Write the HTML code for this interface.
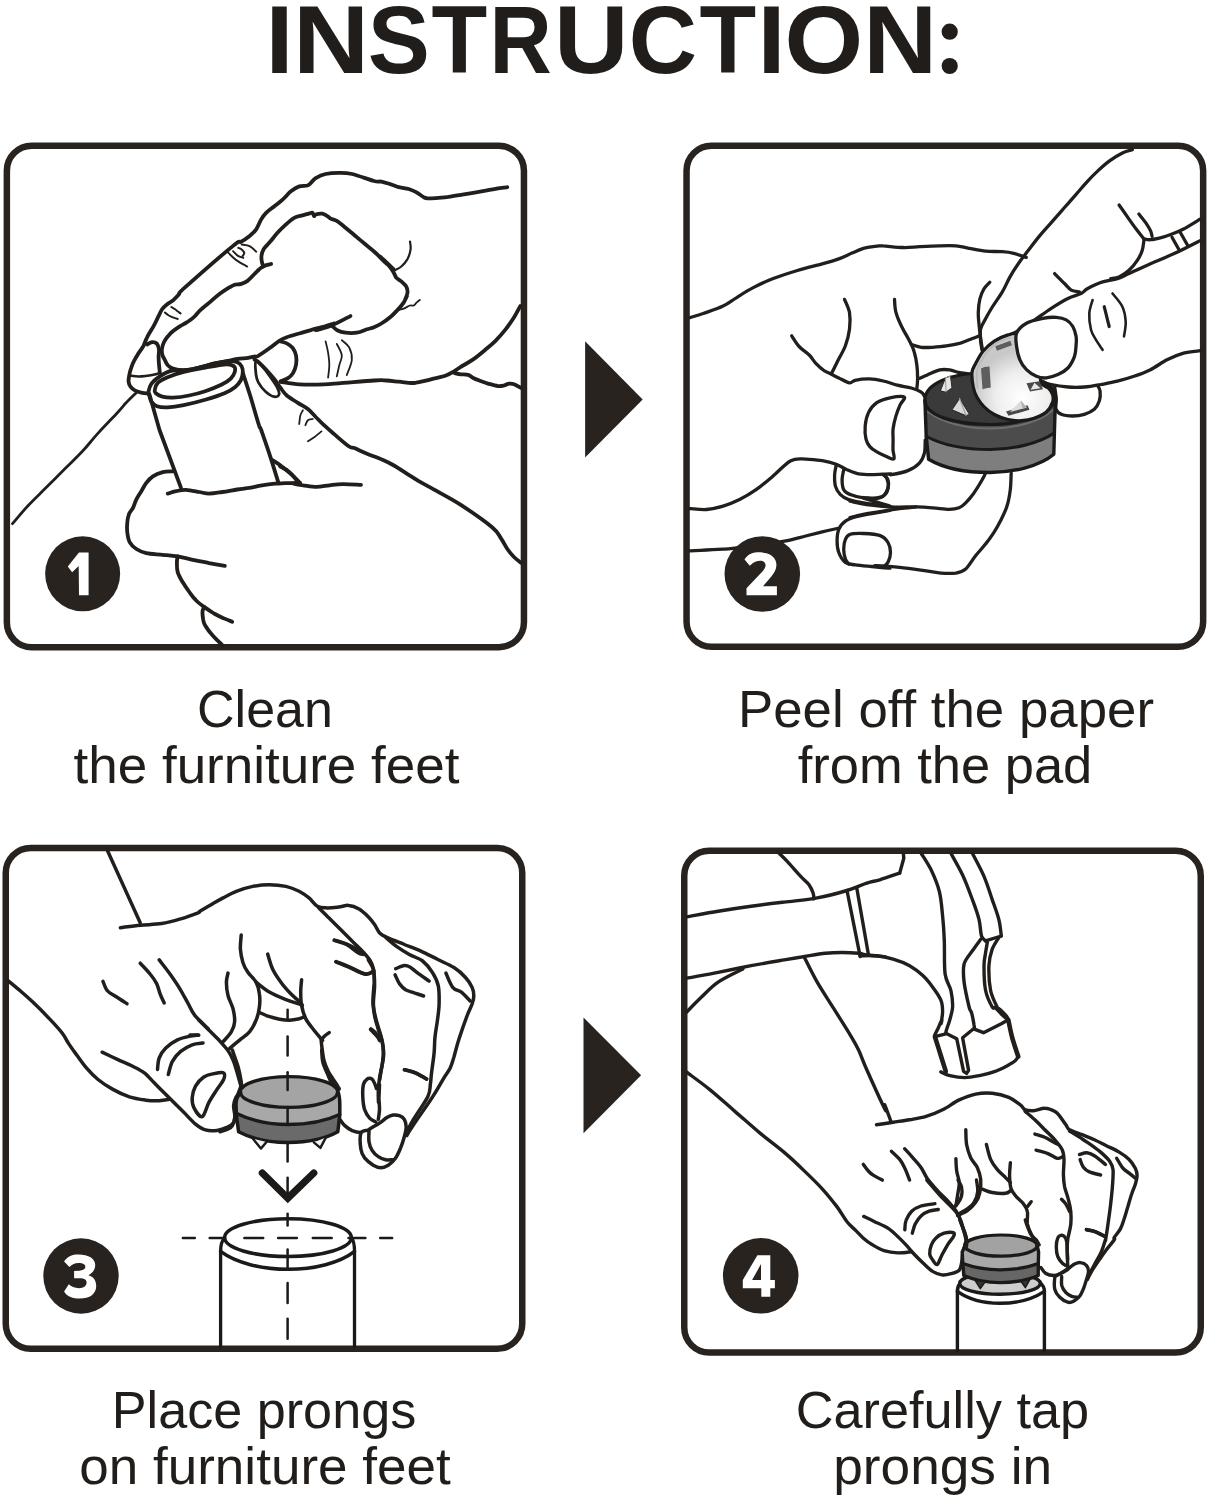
<!DOCTYPE html>
<html><head><meta charset="utf-8"><title>Instruction</title>
<style>
html,body{margin:0;padding:0;background:#fff;}
body{width:1210px;height:1500px;overflow:hidden;}
svg{display:block;}
.t{font-family:"Liberation Sans",sans-serif;fill:#211d1a;}
.d{fill:none;stroke:#221e1b;stroke-width:3;stroke-linecap:round;stroke-linejoin:round;}
.b{fill:none;stroke:#28231f;stroke-width:6.5;}
</style></head>
<body>
<svg width="1210" height="1500" viewBox="0 0 1210 1500">
<rect width="1210" height="1500" fill="#fff"/>
<!-- title -->
<g id="title"><text class="t" font-size="97.0" font-weight="bold" transform="translate(265.45 72.8) scale(1.0381 1)">I</text><text class="t" font-size="97.0" font-weight="bold" transform="translate(293.04 72.8) scale(1.0870 1)">N</text><text class="t" font-size="97.0" font-weight="bold" transform="translate(367.70 72.8) scale(0.9604 1)">S</text><text class="t" font-size="97.0" font-weight="bold" transform="translate(431.40 72.8) scale(0.9399 1)">T</text><text class="t" font-size="97.0" font-weight="bold" transform="translate(489.42 72.8) scale(0.8895 1)">R</text><text class="t" font-size="97.0" font-weight="bold" transform="translate(554.01 72.8) scale(1.0635 1)">U</text><text class="t" font-size="97.0" font-weight="bold" transform="translate(628.72 72.8) scale(0.9758 1)">C</text><text class="t" font-size="97.0" font-weight="bold" transform="translate(699.58 72.8) scale(0.9557 1)">T</text><text class="t" font-size="97.0" font-weight="bold" transform="translate(757.45 72.8) scale(1.0381 1)">I</text><text class="t" font-size="97.0" font-weight="bold" transform="translate(784.55 72.8) scale(1.0428 1)">O</text><text class="t" font-size="97.0" font-weight="bold" transform="translate(863.34 72.8) scale(1.0555 1)">N</text><circle cx="949.7" cy="31.7" r="8.1" fill="#211d1a"/><circle cx="949.7" cy="66" r="8.1" fill="#211d1a"/></g>

<!-- boxes -->
<rect class="b" x="6.85" y="145.75" width="517.1" height="501.5" rx="25"/>
<rect class="b" x="686.55" y="145.75" width="516.6" height="501" rx="25"/>
<rect class="b" x="5.75" y="847.95" width="516.5" height="500.9" rx="25"/>
<rect class="b" x="684.25" y="850.75" width="516.5" height="501.8" rx="25"/>

<!-- arrows -->
<path d="M585.1 341.3 L642.7 399.5 L585.1 457.6 Z" fill="#28231f"/>
<path d="M583.5 1017.6 L641.1 1075.2 L583.5 1133.3 Z" fill="#28231f"/>

<!-- DRAWINGS -->
<g id="p1" fill="none" stroke-linecap="round" stroke-linejoin="round">
<path d="M507.3 187.2C505.7 187.4 501.6 187.9 498.0 188.4C494.4 189.0 489.7 189.9 485.6 190.7C481.4 191.4 477.3 192.1 473.2 192.8C469.0 193.5 464.9 194.2 460.8 194.9C456.6 195.6 452.5 196.3 448.4 196.9C444.2 197.4 439.5 197.9 436.0 198.1C432.5 198.3 429.4 198.5 427.3 198.3C425.2 198.2 425.4 198.1 423.6 197.1C421.7 196.1 418.6 193.5 416.1 192.1C413.7 190.8 411.0 189.8 408.7 189.0C406.4 188.3 404.2 188.1 402.5 187.8C400.9 187.5 400.9 187.8 398.8 187.2C396.7 186.6 393.0 185.0 390.1 184.1C387.2 183.2 384.1 182.1 381.4 181.6C378.8 181.1 378.9 182.3 374.0 181.0C369.1 179.7 357.9 175.3 352.1 174.0C346.2 172.6 343.3 172.8 338.8 172.8C334.4 172.8 329.5 173.1 325.6 174.0C321.8 174.8 318.2 176.6 315.7 178.1C313.2 179.6 312.1 181.8 310.7 183.1C309.4 184.3 309.4 185.0 307.4 185.5C305.5 186.1 301.9 185.4 299.2 186.4C296.4 187.3 293.7 189.1 290.9 191.3C288.2 193.5 285.4 197.1 282.6 199.6C279.9 202.1 277.1 204.0 274.4 206.2C271.6 208.4 268.3 210.6 266.1 212.8C263.9 215.0 262.8 216.7 261.2 219.4C259.5 222.2 258.1 226.6 256.2 229.3C254.3 232.1 252.1 233.9 249.6 236.0C247.1 238.0 244.1 240.1 241.3 241.7C238.6 243.4 242.5 238.2 233.1 245.9C223.6 253.5 193.8 279.6 184.7 287.7C175.7 295.8 180.7 292.5 178.8 294.6C176.8 296.8 174.8 298.9 172.8 300.6C170.8 302.2 168.7 303.1 166.9 304.5C165.0 306.0 163.4 307.4 161.9 309.5C160.4 311.7 159.3 314.8 157.9 317.4C156.6 320.1 155.8 322.1 154.0 325.4C152.2 328.7 148.9 333.7 147.2 337.1C145.4 340.5 144.9 343.1 143.5 345.8C142.0 348.5 140.1 350.7 138.5 353.2C137.0 355.7 135.4 358.2 134.2 360.7C132.9 363.1 131.9 365.6 131.1 368.1C130.2 370.6 129.6 373.3 129.2 375.5C128.8 377.8 128.4 379.9 128.6 381.7C128.8 383.6 129.4 385.2 130.5 386.7C131.5 388.1 132.8 389.4 134.8 390.4C136.8 391.4 140.1 392.4 142.2 392.9C144.4 393.4 146.9 393.4 147.8 393.5" fill="none" stroke="#221e1b" stroke-width="3.8"/>
<path d="M147.2 344.5C148.0 344.1 150.5 342.2 152.1 342.1C153.8 342.0 156.0 342.7 157.1 343.9C158.2 345.2 158.7 347.3 159.0 349.5C159.2 351.7 158.6 354.5 158.6 356.9C158.6 359.4 158.8 361.8 159.0 364.4C159.2 367.0 159.7 371.1 159.8 372.4" fill="none" stroke="#221e1b" stroke-width="3.8"/>
<path d="M129.8 375.5C131.3 375.7 135.6 376.5 138.5 376.5C141.4 376.6 144.5 376.1 147.2 375.8C149.9 375.5 152.5 375.0 154.6 374.5C156.8 374.0 159.3 373.1 160.2 372.8" fill="none" stroke="#221e1b" stroke-width="2.6"/>
<path d="M164.9 312.5C165.5 313.0 167.5 314.6 168.8 315.5C170.2 316.3 171.3 316.9 172.8 317.4C174.3 318.0 176.9 318.7 177.8 318.9" fill="none" stroke="#221e1b" stroke-width="2.0"/>
<path d="M171.3 307.0C171.9 307.4 173.7 308.3 174.8 309.0C175.9 309.8 176.8 310.7 177.8 311.5C178.8 312.2 180.2 313.1 180.7 313.5" fill="none" stroke="#221e1b" stroke-width="2.0"/>
<path d="M226.4 250.8C227.5 251.9 230.9 255.5 233.1 257.4C235.3 259.4 237.3 260.9 239.7 262.4C242.0 263.9 245.9 265.8 247.1 266.5" fill="none" stroke="#221e1b" stroke-width="2.0"/>
<path d="M233.1 251.2C233.9 251.9 236.3 254.7 238.0 255.8C239.7 256.9 242.4 257.4 243.3 257.8" fill="none" stroke="#221e1b" stroke-width="2.0"/>
<path d="M238.3 247.9C238.9 248.1 240.7 248.7 241.7 249.5C242.6 250.3 244.1 251.7 244.3 252.8C244.5 253.9 242.9 255.6 242.6 256.1" fill="none" stroke="#221e1b" stroke-width="2.0"/>
<path d="M241.7 244.5C243.0 244.8 247.2 245.0 249.6 246.2C252.0 247.4 255.1 250.7 256.2 251.7" fill="none" stroke="#221e1b" stroke-width="2.0"/>
<path d="M271.1 264.0C270.0 264.3 266.4 264.9 264.5 265.7C262.5 266.5 261.2 267.6 259.5 269.0C257.9 270.4 256.5 272.0 254.5 274.0C252.6 275.9 250.1 278.9 247.9 280.6C245.7 282.2 243.5 283.2 241.3 283.9C239.1 284.6 236.6 284.2 234.7 284.7C232.8 285.3 232.2 285.7 229.8 287.2C227.3 288.7 223.1 291.3 219.8 293.8C216.5 296.3 213.2 299.3 209.9 302.1C206.6 304.8 202.7 307.8 200.0 310.3C197.3 312.9 195.9 315.4 193.6 317.4C191.4 319.4 189.0 320.9 186.7 322.4C184.4 323.9 182.1 324.9 179.8 326.4C177.4 327.9 174.8 329.7 172.8 331.3C170.8 333.0 169.3 334.5 167.9 336.3C166.4 338.1 164.9 340.1 163.9 342.2C162.9 344.4 162.1 347.0 161.9 349.2C161.7 351.3 161.9 353.3 162.4 355.1C162.9 356.9 163.9 358.4 164.9 360.1C165.8 361.8 166.6 364.1 168.0 365.5C169.4 366.9 170.4 367.8 173.0 368.6C175.6 369.4 180.1 370.2 183.7 370.2C187.3 370.2 191.3 369.2 194.5 368.6C197.7 368.0 200.3 367.3 203.0 366.6C205.7 365.9 206.7 365.2 210.6 364.3C214.5 363.4 222.2 362.0 226.7 361.1C231.2 360.2 233.8 359.5 237.4 359.0C241.0 358.5 245.4 358.3 248.2 357.9C251.0 357.5 252.4 357.0 254.1 356.6C255.8 356.2 255.7 357.2 258.3 355.8C260.8 354.4 265.9 350.8 269.4 348.3C272.9 345.9 276.4 342.8 279.3 340.9C282.2 339.0 283.5 338.4 286.8 337.2C290.1 336.0 295.0 334.7 299.2 333.5C303.3 332.2 307.4 330.9 311.6 329.8C315.7 328.6 320.2 327.7 324.0 326.7C327.7 325.6 335.3 323.0 333.9 323.6C332.5 324.1 316.0 329.9 315.7 330.2C315.4 330.4 326.4 327.5 332.2 325.2C338.0 322.9 347.4 317.6 350.4 316.1" fill="none" stroke="#221e1b" stroke-width="3.8"/>
<path d="M263.6 266.5C263.4 265.8 262.3 264.2 262.0 262.4C261.6 260.6 261.2 258.0 261.5 255.8C261.8 253.6 262.3 251.4 263.6 249.2C265.0 247.0 267.1 245.3 269.4 242.6C271.8 239.8 274.9 235.7 277.7 232.6C280.4 229.6 283.2 226.9 286.0 224.4C288.7 221.9 291.5 219.3 294.2 217.8C297.0 216.3 300.0 216.0 302.5 215.3C305.0 214.6 307.4 214.0 309.1 213.6C310.7 213.2 311.6 212.4 312.4 212.8C313.2 213.2 313.5 215.8 314.0 216.1C314.6 216.4 314.3 214.9 315.7 214.5C317.1 214.0 320.4 213.4 322.3 213.6C324.2 213.9 325.9 215.3 327.3 216.1C328.7 216.9 328.9 217.8 330.6 218.6C332.2 219.4 334.7 219.6 337.2 221.1C339.7 222.6 342.4 225.2 345.5 227.7C348.5 230.2 352.1 233.2 355.4 236.0C358.7 238.7 362.0 241.5 365.3 244.2C368.6 247.0 371.9 249.4 375.2 252.5C378.5 255.5 382.1 259.6 385.1 262.4C388.2 265.2 394.2 270.0 393.4 269.0C392.6 268.0 381.4 257.6 380.2 256.6C379.0 255.6 384.5 260.7 386.4 262.8C388.3 264.9 390.1 267.4 391.4 269.0C392.6 270.7 393.0 271.3 393.8 272.7C394.7 274.2 395.1 276.2 396.3 277.7C397.6 279.1 399.6 280.0 401.3 281.4C402.9 282.9 405.2 284.5 406.2 286.4C407.3 288.2 407.7 290.3 407.5 292.6C407.3 294.8 405.1 299.4 405.0 300.0C404.9 300.6 407.1 295.8 406.9 296.2C406.6 296.6 405.1 300.3 403.8 302.4C402.4 304.5 401.1 306.1 398.8 308.6C396.5 311.1 393.0 314.8 390.1 317.3C387.2 319.8 384.1 321.8 381.4 323.5C378.8 325.1 376.4 326.2 374.0 327.2C371.6 328.2 369.8 328.4 366.9 329.3C364.1 330.2 360.6 332.1 357.0 332.6C353.4 333.2 348.8 333.1 345.5 332.6C342.1 332.2 339.4 331.3 337.2 330.2C335.0 329.1 333.1 326.7 332.2 326.0" fill="none" stroke="#221e1b" stroke-width="3.8"/>
<path d="M410.0 241.7C410.1 243.0 411.0 246.3 410.6 249.2C410.2 252.1 409.0 256.2 407.5 259.1C405.9 262.0 403.3 264.7 401.3 266.5C399.2 268.4 396.1 269.6 395.1 270.2" fill="none" stroke="#221e1b" stroke-width="2.2"/>
<path d="M398.8 309.8C399.6 309.6 401.9 309.3 403.8 308.6C405.6 307.9 408.3 306.0 410.0 305.5C411.6 305.0 412.5 306.0 413.7 305.5C414.8 305.0 415.7 303.3 416.8 302.4C417.8 301.5 419.4 300.3 419.9 299.9" fill="none" stroke="#221e1b" stroke-width="1.8"/>
<path d="M520.3 306.1C519.2 308.0 516.6 313.3 514.1 317.3C511.6 321.2 508.5 325.7 505.4 329.7C502.3 333.6 498.8 337.5 495.5 340.8C492.2 344.1 489.3 346.4 485.6 349.5C481.9 352.6 477.3 356.5 473.2 359.4C469.0 362.3 464.1 364.8 460.8 366.9C457.5 368.9 455.8 370.4 453.3 371.8C450.9 373.3 449.2 374.4 445.9 375.5C442.6 376.7 437.2 377.7 433.5 378.6C429.8 379.6 426.5 380.4 423.6 381.1C420.7 381.8 418.2 382.4 416.1 382.7C414.1 383.0 414.1 383.1 411.2 383.0C408.3 382.8 402.9 382.1 398.8 381.7C394.7 381.3 390.5 380.7 386.4 380.5C382.3 380.3 384.4 379.9 374.0 380.5C363.6 381.1 336.4 383.7 324.0 384.3C311.5 384.9 306.4 384.7 299.2 384.3C291.9 383.9 283.7 382.2 280.6 381.8" fill="none" stroke="#221e1b" stroke-width="3.8"/>
<path d="M454.6 373.1C455.6 373.3 458.5 374.0 460.8 374.3C463.0 374.6 466.1 374.3 468.2 374.9C470.3 375.5 471.3 377.1 473.2 378.0C475.0 378.9 476.9 379.6 479.4 380.5C481.9 381.4 485.0 382.7 488.0 383.6C491.1 384.5 495.3 385.8 498.0 386.1C500.7 386.4 502.3 385.9 504.2 385.5C506.0 385.0 507.5 383.8 509.1 383.6C510.8 383.4 512.1 383.5 514.1 384.2C516.0 384.9 519.8 387.3 520.9 387.9" fill="none" stroke="#221e1b" stroke-width="3.8"/>
<path d="M280.6 341.5C281.6 341.8 284.7 342.3 286.8 343.4C288.8 344.5 291.4 346.3 293.0 348.3C294.5 350.4 295.6 353.1 296.1 355.8C296.6 358.5 296.6 361.6 296.1 364.5C295.6 367.4 294.3 370.9 293.0 373.1C291.6 375.4 290.1 376.8 288.0 378.1C286.0 379.4 281.8 380.7 280.6 381.2" fill="none" stroke="#221e1b" stroke-width="3.8"/>
<path d="M325.6 341.4C326.0 343.3 327.5 348.7 328.1 352.7C328.7 356.6 329.3 361.0 329.3 365.1C329.3 369.3 328.3 375.5 328.1 377.6" fill="none" stroke="#221e1b" stroke-width="1.8"/>
<path d="M336.8 343.9C337.6 345.8 341.4 351.6 341.8 355.2C342.2 358.7 340.1 361.6 339.3 365.1C338.5 368.7 337.2 374.5 336.8 376.4" fill="none" stroke="#221e1b" stroke-width="1.8"/>
<path d="M341.8 340.2C343.0 341.4 347.6 344.3 349.3 347.7C351.0 351.0 352.2 355.6 351.8 360.1C351.4 364.7 347.6 372.6 346.8 375.1" fill="none" stroke="#221e1b" stroke-width="1.8"/>
<path d="M148.3 392.3C148.7 390.3 149.5 386.4 151.5 383.7C153.5 381.0 156.9 378.3 160.1 376.2C163.3 374.1 166.9 371.8 170.8 370.8C174.7 369.8 179.8 370.7 183.7 370.4C187.6 370.1 190.0 369.8 194.5 368.8C199.0 367.8 205.2 365.7 210.6 364.5C216.0 363.3 222.2 361.8 226.7 361.4C231.2 361.0 234.9 361.3 237.4 362.2C239.9 363.1 240.8 364.7 241.7 366.5C242.6 368.3 243.0 370.6 242.8 372.9C242.6 375.2 241.9 378.2 240.7 380.5C239.4 382.8 238.0 384.8 235.3 386.9C232.6 389.0 229.5 391.1 224.5 393.3C219.5 395.5 212.0 397.8 205.2 399.8C198.4 401.8 190.0 403.9 183.7 405.2C177.4 406.4 172.1 407.1 167.6 407.3C163.1 407.5 159.6 407.1 156.9 406.2C154.2 405.3 152.8 403.7 151.5 401.9C150.2 400.1 149.8 397.1 149.3 395.5C148.8 393.9 147.9 394.3 148.3 392.3Z" fill="none" stroke="#221e1b" stroke-width="3.8"/>
<path d="M154.7 390.1C155.0 388.3 155.8 384.8 157.9 382.6C160.1 380.5 163.3 379.0 167.6 377.2C171.9 375.4 177.4 373.5 183.7 371.9C190.0 370.3 198.0 368.9 205.2 367.6C212.4 366.3 221.9 364.5 226.7 364.3C231.5 364.1 232.8 365.2 234.2 366.5C235.5 367.8 235.3 369.9 234.8 371.9C234.3 373.9 233.2 376.1 231.0 378.3C228.8 380.5 225.6 382.7 221.3 384.8C217.0 386.9 210.6 389.4 205.2 391.2C199.8 393.0 194.5 394.4 189.1 395.5C183.7 396.6 177.5 397.4 173.0 397.6C168.5 397.8 165.1 397.3 162.2 396.6C159.3 395.9 157.1 394.4 155.8 393.3C154.6 392.2 154.3 391.9 154.7 390.1Z" fill="none" stroke="#221e1b" stroke-width="3.8"/>
<path d="M149.3 394.0L159.5 430.0L181.0 487.9" fill="none" stroke="#221e1b" stroke-width="3.8"/>
<path d="M242.8 372.9C244.0 376.6 247.3 386.3 250.0 395.0C252.7 403.7 257.0 419.2 258.9 425.0C260.8 430.8 259.3 424.8 261.2 430.0C263.0 435.2 267.4 447.6 270.2 456.4C273.1 465.3 277.1 478.5 278.5 482.9" fill="none" stroke="#221e1b" stroke-width="3.8"/>
<path d="M271.9 459.8C273.6 460.9 278.5 463.9 281.8 466.4C285.1 468.8 288.8 472.0 291.7 474.6C294.6 477.2 297.9 480.8 299.2 482.1" fill="none" stroke="#221e1b" stroke-width="3.8"/>
<path d="M136.0 392.9C134.4 394.5 129.2 399.5 126.1 402.8C123.0 406.1 122.1 407.6 117.4 412.7C112.7 417.8 103.6 427.0 97.9 433.4C92.1 439.7 88.3 445.0 82.9 450.8C77.5 456.7 71.6 462.1 65.4 468.3C59.2 474.5 51.7 482.0 45.4 488.3C39.2 494.5 33.5 499.8 28.0 505.7C22.5 511.6 15.1 520.7 12.5 523.7" fill="none" stroke="#221e1b" stroke-width="2.8"/>
<path d="M254.5 359.5C255.2 359.9 256.4 360.3 258.3 362.0C260.1 363.6 263.0 366.5 265.7 369.4C268.4 372.3 271.9 376.2 274.4 379.3C276.9 382.4 278.5 385.3 280.6 388.0C282.6 390.7 283.9 393.0 286.8 395.5C289.7 397.9 294.4 400.6 297.9 402.9C301.4 405.2 305.0 406.8 307.9 409.1C310.7 411.4 312.6 413.8 315.3 416.5C318.0 419.2 320.9 422.3 324.0 425.2C327.1 428.1 329.8 430.4 333.9 433.9C338.0 437.4 345.3 443.9 348.8 446.3C352.2 448.7 351.2 446.8 354.4 448.1C357.5 449.4 362.9 452.0 367.6 453.9C372.3 455.8 378.1 457.7 382.5 459.7C386.9 461.6 390.2 463.3 394.0 465.5C397.9 467.7 401.5 470.3 405.6 472.9C409.8 475.5 414.2 478.4 418.8 481.2C423.5 483.9 426.7 485.5 433.7 489.4C440.7 493.4 451.1 498.6 460.8 504.9C470.5 511.2 485.4 521.6 492.1 527.2C498.8 532.8 498.4 534.6 501.0 538.3C503.6 542.0 505.5 546.4 507.7 549.5C509.9 552.6 511.8 554.8 514.0 557.0C516.2 559.2 519.9 561.9 521.1 562.9" fill="none" stroke="#221e1b" stroke-width="3.8"/>
<path d="M255.8 361.4C254.8 362.8 255.6 370.9 256.0 374.4C256.4 377.9 256.7 379.5 258.3 382.4C259.9 385.3 263.0 389.4 265.7 391.7C268.4 394.1 272.1 396.3 274.4 396.7C276.6 397.1 278.7 395.9 279.1 394.2C279.5 392.6 278.5 389.9 276.9 386.8C275.2 383.7 271.9 379.1 269.4 375.6C266.9 372.1 264.3 368.1 262.0 365.7C259.7 363.3 256.8 359.9 255.8 361.4Z" fill="none" stroke="#221e1b" stroke-width="2.8"/>
<path d="M299.2 424.0C299.4 422.5 299.8 417.6 300.4 415.3C301.0 413.0 302.5 411.2 302.9 410.3" fill="none" stroke="#221e1b" stroke-width="1.8"/>
<path d="M305.4 425.2C305.8 424.4 306.6 421.3 307.9 420.2C309.1 419.2 312.0 419.2 312.8 419.0" fill="none" stroke="#221e1b" stroke-width="1.8"/>
<path d="M307.9 441.3C309.1 440.5 313.0 438.0 315.3 436.4C317.6 434.7 320.5 432.2 321.5 431.4" fill="none" stroke="#221e1b" stroke-width="1.8"/>
<path d="M167.8 493.6C169.1 493.2 173.0 491.8 176.0 491.2C179.1 490.5 182.1 489.7 186.0 489.8C189.8 490.0 195.3 491.3 199.2 492.0C203.0 492.6 205.2 493.6 209.1 493.6C212.9 493.6 217.6 492.7 222.3 492.0C227.0 491.3 232.8 490.2 237.2 489.5C241.6 488.8 244.6 488.5 248.8 487.9C252.9 487.2 257.6 486.1 262.0 485.4C266.4 484.7 271.3 484.1 275.2 483.7C279.1 483.4 281.0 483.4 285.1 483.2C289.3 483.1 298.7 482.8 300.0 482.9C301.3 483.0 292.7 483.2 293.2 483.6C293.7 484.0 299.3 484.7 303.1 485.3C307.0 485.8 312.0 486.9 316.4 486.9C320.8 486.9 325.2 485.8 329.6 485.3C334.0 484.8 337.6 484.2 342.8 484.1C348.0 484.0 358.0 484.7 361.0 484.8" fill="none" stroke="#221e1b" stroke-width="3.8"/>
<path d="M280.0 466.3C281.4 467.1 285.8 469.3 288.3 471.2C290.7 473.2 293.1 475.8 294.9 477.9C296.7 479.9 298.3 482.7 299.0 483.6" fill="none" stroke="#221e1b" stroke-width="3.8"/>
<path d="M172.7 471.3C171.1 471.5 166.1 471.3 162.8 472.1C159.5 473.0 155.6 474.5 152.9 476.3C150.1 478.1 148.2 480.4 146.3 482.9C144.4 485.4 143.0 488.4 141.3 491.2C139.7 493.9 137.7 496.7 136.4 499.4C135.0 502.2 134.3 505.2 133.1 507.7C131.8 510.2 129.9 511.8 128.9 514.3C128.0 516.8 127.5 519.5 127.3 522.6C127.0 525.6 126.9 529.2 127.3 532.5C127.7 535.8 128.2 539.6 129.8 542.4C131.3 545.2 133.6 547.2 136.4 549.0C139.1 550.8 141.9 552.2 146.3 553.1C150.7 554.1 157.6 554.2 162.8 554.8C168.0 555.3 172.7 555.6 177.7 556.4C182.6 557.3 187.3 558.7 192.6 559.8C197.8 560.9 203.7 562.0 209.1 563.1C214.5 564.1 222.2 565.4 224.8 565.9" fill="none" stroke="#221e1b" stroke-width="3.8"/>
<path d="M177.7 556.4C177.5 557.4 176.9 559.6 176.9 562.2C176.9 564.8 176.7 568.8 177.7 572.1C178.7 575.5 180.7 578.8 182.6 582.1C184.6 585.4 187.1 589.0 189.3 592.0C191.5 595.0 193.4 597.8 195.9 600.2C198.3 602.7 201.1 604.7 204.1 606.9C207.2 609.1 210.7 611.5 214.0 613.5C217.4 615.4 220.9 617.1 224.0 618.4C227.0 619.8 230.9 621.2 232.2 621.7" fill="none" stroke="#221e1b" stroke-width="3.8"/>
<path d="M204.1 606.9C203.9 607.7 202.6 609.6 202.5 611.8C202.3 614.0 202.9 617.8 203.3 620.1C203.8 622.4 203.6 623.0 205.2 625.5C206.7 628.1 209.7 632.2 212.7 635.5C215.6 638.8 221.0 643.8 222.6 645.5" fill="none" stroke="#221e1b" stroke-width="3.8"/>
</g><!--/p1-->
<g id="p2" fill="none" stroke-linecap="round" stroke-linejoin="round">
<path d="M690.0 317.6C692.2 316.9 697.7 315.4 703.2 313.5C708.7 311.5 717.5 308.7 723.1 306.0C728.6 303.4 731.3 300.8 736.3 297.8C741.2 294.7 746.7 291.0 752.8 287.9C758.9 284.7 765.2 281.7 772.6 278.8C780.1 275.9 789.2 273.0 797.4 270.5C805.7 268.0 815.3 265.8 822.2 263.9C829.1 262.0 833.8 260.7 838.8 258.9C843.7 257.1 847.6 255.0 852.0 253.1C856.4 251.3 861.1 249.0 865.2 247.9C869.3 246.7 873.8 246.5 876.8 246.2C879.8 245.9 878.8 245.6 883.2 245.9C887.6 246.1 897.0 247.4 903.1 247.5C909.1 247.7 913.5 247.0 919.6 246.7C925.6 246.4 933.4 246.0 939.4 245.9C945.5 245.7 951.0 245.5 956.0 245.9C960.9 246.3 964.2 247.5 969.2 248.3C974.1 249.2 980.2 250.6 985.7 251.2C991.2 251.7 997.5 251.3 1002.2 251.7C1006.9 252.0 1009.8 252.3 1013.8 253.3C1017.8 254.3 1024.1 256.7 1026.2 257.4" fill="none" stroke="#221e1b" stroke-width="3.3"/>
<path d="M791.7 335.8C792.9 337.6 796.2 343.4 799.1 346.5C802.0 349.7 806.3 352.0 809.0 354.8C811.8 357.5 813.1 360.4 815.6 363.1C818.1 365.7 821.4 368.7 823.9 370.5C826.4 372.3 828.0 372.6 830.5 373.8C833.0 375.0 835.6 376.4 838.8 377.9C841.9 379.4 846.8 382.5 849.5 382.9C852.2 383.3 851.8 381.0 855.1 380.3C858.4 379.6 864.5 378.8 869.2 378.9C873.9 379.0 878.5 379.9 883.2 381.0C887.9 382.0 892.6 384.0 897.3 385.2C902.0 386.4 907.3 386.8 911.3 388.0C915.3 389.2 918.9 390.8 921.2 392.2C923.4 393.6 924.1 395.7 924.7 396.4" fill="none" stroke="#221e1b" stroke-width="3.3"/>
<path d="M844.5 299.4C845.4 301.6 848.7 307.7 849.5 312.6C850.3 317.6 850.2 323.7 849.5 329.2C848.8 334.7 847.4 340.2 845.4 345.7C843.3 351.2 839.4 357.5 837.1 362.2C834.8 366.9 832.3 371.9 831.3 373.8" fill="none" stroke="#221e1b" stroke-width="3.3"/>
<path d="M894.5 299.5C894.7 301.6 894.7 307.7 895.9 312.1C897.0 316.6 899.1 321.3 901.5 326.2C903.8 331.1 907.8 337.4 909.9 341.7C912.0 345.9 913.0 347.5 914.1 351.5C915.3 355.5 916.4 361.1 916.9 365.5C917.5 370.0 917.6 374.4 917.6 378.2C917.6 381.9 917.1 386.4 916.9 388.0" fill="none" stroke="#221e1b" stroke-width="3.3"/>
<path d="M911.3 344.5C913.0 344.9 917.6 346.8 921.2 347.3C924.7 347.7 928.2 347.5 932.4 347.3C936.6 347.0 941.8 346.6 946.4 345.9C951.1 345.2 956.3 344.2 960.5 343.1C964.7 341.9 968.7 340.0 971.7 338.8C974.8 337.7 977.6 336.5 978.8 336.0" fill="none" stroke="#221e1b" stroke-width="3.3"/>
<path d="M919.8 378.2C921.1 377.6 924.1 376.3 927.4 374.9C930.7 373.5 936.1 370.7 939.8 369.9C943.5 369.1 946.6 369.5 949.7 369.9C952.8 370.3 955.5 371.8 958.4 372.4C961.3 373.0 965.6 373.4 967.1 373.6" fill="none" stroke="#221e1b" stroke-width="3.3"/>
<path d="M989.8 282.2C988.9 283.3 985.7 286.1 984.0 288.8C982.4 291.6 980.9 294.9 979.9 298.8C979.0 302.6 978.4 307.6 978.3 312.0C978.1 316.4 978.7 320.8 979.1 325.2C979.5 329.6 980.2 334.3 980.7 338.4C981.3 342.6 982.1 348.1 982.4 350.0" fill="none" stroke="#221e1b" stroke-width="3.3"/>
<path d="M690.0 508.7C692.8 508.8 701.0 509.9 706.5 509.5C712.0 509.1 717.5 507.9 723.1 506.2C728.6 504.5 734.1 502.3 739.6 499.6C745.1 496.8 750.6 493.5 756.1 489.7C761.6 485.8 766.9 481.3 772.6 476.4C778.4 471.6 785.3 463.6 790.8 460.7C796.3 457.9 800.5 459.1 805.7 459.1C810.9 459.1 817.3 459.9 822.2 460.7C827.2 461.6 831.3 462.6 835.5 464.0C839.6 465.5 843.2 468.0 847.0 469.7C850.9 471.3 854.5 473.0 858.6 473.8C862.7 474.6 866.6 474.6 871.8 474.6C877.1 474.6 886.7 473.8 890.0 473.8C893.3 473.8 888.3 475.2 891.3 474.7C894.3 474.2 903.2 472.5 907.9 470.6C912.5 468.7 916.7 466.0 919.4 463.1C922.2 460.2 923.4 457.1 924.4 453.2C925.3 449.4 925.1 442.2 925.2 440.0" fill="none" stroke="#221e1b" stroke-width="3.3"/>
<path d="M904.3 397.1C902.6 395.9 894.6 396.9 890.0 397.8C885.4 398.7 880.4 400.2 876.8 402.7C873.2 405.2 870.4 408.7 868.5 412.6C866.6 416.5 865.6 421.5 865.2 425.9C864.8 430.3 865.2 435.7 866.0 439.1C866.8 442.6 868.1 444.5 869.8 446.6C871.5 448.7 873.9 450.1 876.4 451.6C878.9 453.1 881.8 454.5 884.7 455.7C887.6 456.9 892.4 460.0 893.8 459.0C895.2 458.0 893.1 453.1 893.0 449.9C892.9 446.7 893.1 443.5 893.1 440.0C893.1 436.5 892.6 432.8 893.1 428.8C893.6 424.8 894.7 420.1 895.9 416.1C897.1 412.1 898.7 408.1 900.1 404.9C901.5 401.7 906.0 398.3 904.3 397.1Z" fill="none" stroke="#221e1b" stroke-width="3.3"/>
<path d="M836.3 464.9C836.0 466.5 834.8 471.2 834.6 474.8C834.5 478.4 834.5 483.1 835.5 486.4C836.4 489.7 838.2 492.4 840.4 494.6C842.6 496.8 844.8 498.2 848.7 499.6C852.5 501.0 858.3 501.9 863.6 502.9C868.8 503.9 875.7 504.8 880.1 505.4C884.5 505.9 892.8 507.5 890.0 506.2C887.2 504.9 865.8 499.1 863.2 497.9C860.7 496.6 871.5 499.0 874.8 498.7C878.1 498.4 880.9 498.0 883.1 496.2C885.3 494.4 887.2 490.7 888.0 487.9C888.8 485.2 888.6 481.7 888.0 479.7C887.5 477.6 885.3 476.2 884.7 475.5" fill="none" stroke="#221e1b" stroke-width="3.3"/>
<path d="M843.7 469.8C843.4 471.5 842.1 476.4 842.1 479.8C842.1 483.1 842.3 487.2 843.7 489.7C845.1 492.1 847.0 493.3 850.3 494.6C853.6 496.0 859.1 497.4 863.6 497.9C868.0 498.5 873.2 498.5 876.8 497.9C880.4 497.4 883.1 496.6 885.0 494.6C887.0 492.7 888.1 489.1 888.3 486.4C888.6 483.6 887.5 480.0 886.7 478.1C885.9 476.2 883.9 475.3 883.4 474.8" fill="none" stroke="#221e1b" stroke-width="3.3"/>
<path d="M850.0 501.2C852.8 501.7 859.6 503.5 866.5 504.5C873.4 505.4 883.1 506.5 891.3 506.9C899.6 507.4 909.2 506.8 916.1 506.9C923.0 507.1 927.1 507.4 932.6 507.8C938.2 508.2 944.8 509.4 949.2 509.4C953.6 509.4 956.3 508.9 959.1 507.8C961.8 506.7 963.2 505.3 965.7 502.8C968.2 500.3 971.2 496.7 974.0 492.9C976.7 489.0 980.3 483.0 982.2 479.7C984.2 476.4 985.0 474.2 985.5 473.1" fill="none" stroke="#221e1b" stroke-width="3.3"/>
<path d="M850.0 517.7C852.2 517.1 857.7 515.5 863.2 514.4C868.7 513.3 877.0 512.0 883.1 511.1C889.1 510.1 894.1 509.3 899.6 508.6C905.1 507.9 913.4 507.2 916.1 506.9" fill="none" stroke="#221e1b" stroke-width="3.3"/>
<path d="M890.0 510.3C887.0 510.9 877.6 512.5 871.8 513.6C866.0 514.7 859.7 515.7 855.3 516.9C850.9 518.2 848.1 519.0 845.4 521.1C842.6 523.1 840.1 526.0 838.8 529.3C837.4 532.6 837.1 537.1 837.1 540.9C837.1 544.8 837.4 548.9 838.8 552.5C840.1 556.1 842.6 560.3 845.4 562.4C848.1 564.5 850.9 564.2 855.3 564.9C859.7 565.6 866.0 566.0 871.8 566.5C877.6 567.1 889.5 568.3 890.0 568.2C890.5 568.0 873.2 565.8 874.8 565.6C876.4 565.5 891.3 566.4 899.6 567.3C907.9 568.1 917.5 569.6 924.4 570.6C931.3 571.5 935.7 572.6 940.9 573.1C946.1 573.5 951.7 573.7 955.8 573.1C959.9 572.4 962.4 571.8 965.7 568.9C969.0 566.0 972.3 559.8 975.6 555.7C978.9 551.6 982.5 548.0 985.5 544.1C988.6 540.3 991.3 536.4 993.8 532.6C996.3 528.7 998.2 525.4 1000.4 521.0C1002.6 516.6 1005.4 511.3 1007.0 506.1C1008.7 500.9 1009.6 495.1 1010.3 489.6C1011.0 484.1 1011.0 475.8 1011.2 473.1" fill="none" stroke="#221e1b" stroke-width="3.3"/>
<path d="M848.7 564.0C848.2 563.2 846.2 561.6 845.4 559.1C844.6 556.6 843.7 552.5 843.7 549.2C843.7 545.9 844.3 541.8 845.4 539.3C846.5 536.8 847.3 535.3 850.3 534.3C853.3 533.3 858.6 533.3 863.6 533.5C868.6 533.7 876.0 534.1 880.1 535.6C884.2 537.1 886.3 539.7 888.0 542.5C889.7 545.3 890.5 549.1 890.5 552.4C890.5 555.7 889.0 560.1 888.0 562.3C887.0 564.5 885.2 565.0 884.7 565.6" fill="none" stroke="#221e1b" stroke-width="3.3"/>
<path d="M690.0 550.8C692.8 550.7 701.0 550.3 706.5 550.0C712.0 549.7 718.7 549.4 723.1 549.2C727.5 548.9 726.9 549.0 733.0 548.3C739.0 547.7 750.6 546.3 759.4 545.0C768.2 543.8 778.2 542.4 785.9 540.9C793.6 539.4 799.6 537.5 805.7 536.0C811.8 534.4 817.0 533.1 822.2 531.8C827.5 530.6 834.6 529.1 837.1 528.5" fill="none" stroke="#221e1b" stroke-width="3.3"/>
<path d="M1054.6 386.2C1054.9 388.4 1056.1 395.6 1056.3 399.4C1056.5 403.2 1055.2 406.5 1056.0 409.0C1056.8 411.5 1058.4 413.1 1061.2 414.3C1064.0 415.5 1068.9 416.0 1072.8 416.0C1076.7 416.0 1080.8 415.4 1084.4 414.3C1088.0 413.2 1091.8 411.5 1094.3 409.3C1096.8 407.1 1098.3 404.1 1099.3 401.1C1100.3 398.1 1100.4 393.8 1100.1 391.2C1099.8 388.6 1098.0 386.4 1097.6 385.5" fill="none" stroke="#221e1b" stroke-width="3.3"/>
<path d="M1132.3 149.7C1130.7 150.2 1126.3 151.0 1122.4 153.0C1118.5 154.9 1113.3 158.2 1109.2 161.2C1105.0 164.3 1101.2 167.8 1097.6 171.1C1094.0 174.4 1091.3 177.2 1087.7 181.1C1084.1 184.9 1080.0 189.9 1076.1 194.3C1072.3 198.7 1068.4 203.1 1064.5 207.5C1060.7 211.9 1057.1 216.0 1053.0 220.7C1048.8 225.4 1043.9 230.6 1039.8 235.6C1035.6 240.6 1031.8 245.8 1028.2 250.5C1024.6 255.2 1021.3 259.3 1018.3 263.7C1015.2 268.1 1012.7 272.2 1010.0 276.9C1007.3 281.7 1005.2 287.1 1002.2 292.1C999.2 297.1 995.0 302.6 992.3 307.0C989.5 311.4 987.6 315.0 985.7 318.6C983.8 322.2 981.6 324.9 980.7 328.5C979.8 332.1 980.3 336.4 980.5 340.0C980.7 343.6 981.8 348.3 982.0 350.0" fill="none" stroke="#221e1b" stroke-width="3.3"/>
<path d="M1143.9 238.9C1145.0 239.0 1147.5 240.0 1150.5 239.7C1153.5 239.4 1158.5 238.2 1162.1 237.3C1165.7 236.4 1168.4 235.4 1172.0 234.0C1175.6 232.6 1178.9 231.5 1183.6 229.0C1188.3 226.5 1197.3 220.8 1200.1 219.1" fill="none" stroke="#221e1b" stroke-width="3.3"/>
<path d="M1119.1 205.0C1120.8 207.3 1126.0 214.8 1129.0 219.1C1132.0 223.4 1134.8 227.3 1137.3 230.6C1139.8 233.9 1142.8 237.5 1143.9 238.9" fill="none" stroke="#221e1b" stroke-width="3.3"/>
<path d="M1138.9 214.1C1140.0 215.5 1143.6 219.7 1145.5 222.4C1147.4 225.2 1149.4 228.3 1150.5 230.6C1151.6 232.9 1151.8 235.4 1152.1 236.4" fill="none" stroke="#221e1b" stroke-width="3.3"/>
<path d="M1143.9 240.6C1143.6 242.2 1143.3 247.2 1142.2 250.5C1141.1 253.8 1139.5 257.1 1137.3 260.4C1135.1 263.7 1132.0 267.6 1129.0 270.3C1126.0 273.1 1122.1 275.5 1119.1 276.9C1116.1 278.3 1112.2 278.3 1110.8 278.6" fill="none" stroke="#221e1b" stroke-width="3.3"/>
<path d="M1172.0 237.3L1178.6 249.0" fill="none" stroke="#221e1b" stroke-width="3.3"/>
<path d="M1180.2 232.3L1187.7 245.5" fill="none" stroke="#221e1b" stroke-width="3.3"/>
<path d="M1054.6 273.6C1056.2 275.2 1061.7 280.8 1064.5 283.5C1067.3 286.2 1068.7 288.7 1071.2 290.1C1073.7 291.5 1078.0 291.5 1079.4 291.8" fill="none" stroke="#221e1b" stroke-width="3.3"/>
<path d="M1010.0 334.8C1011.6 334.0 1015.8 332.3 1019.9 329.8C1024.0 327.3 1029.6 323.5 1034.8 319.9C1040.0 316.3 1045.8 311.9 1051.3 308.3C1056.8 304.7 1062.9 300.9 1067.9 298.4C1072.9 295.9 1077.8 295.1 1081.1 293.5C1084.4 291.9 1084.1 290.4 1087.7 288.5C1091.3 286.6 1097.6 283.5 1102.6 281.9C1107.5 280.2 1113.0 280.0 1117.4 278.6C1121.8 277.2 1123.5 276.1 1129.0 273.6C1134.5 271.1 1142.8 267.1 1150.5 263.7C1158.2 260.3 1167.0 256.9 1175.3 253.0C1183.6 249.2 1196.0 242.7 1200.1 240.6" fill="none" stroke="#221e1b" stroke-width="3.3"/>
<path d="M1036.4 379.6C1038.9 380.4 1046.0 383.3 1051.3 384.5C1056.5 385.7 1062.4 386.6 1067.9 387.0C1073.4 387.4 1078.9 387.4 1084.4 387.0C1089.9 386.6 1095.4 385.5 1100.9 384.5C1106.4 383.5 1111.9 382.6 1117.4 381.2C1122.9 379.8 1128.5 378.2 1134.0 376.3C1139.5 374.4 1145.0 372.4 1150.5 369.7C1156.0 366.9 1161.5 362.6 1167.0 359.8C1172.5 357.0 1178.1 354.6 1183.6 353.1C1189.1 351.6 1197.3 351.1 1200.1 350.7" fill="none" stroke="#221e1b" stroke-width="3.3"/>
<path d="M1092.6 300.1C1092.0 302.3 1089.6 308.4 1089.3 313.3C1089.0 318.2 1089.9 325.4 1091.0 329.8C1092.1 334.2 1094.1 336.6 1096.0 339.9C1097.9 343.2 1101.5 348.1 1102.6 349.8" fill="none" stroke="#221e1b" stroke-width="2.6"/>
<path d="M1104.2 306.7C1104.8 308.9 1106.7 316.6 1107.5 319.9C1108.3 323.2 1108.9 325.4 1109.2 326.5" fill="none" stroke="#221e1b" stroke-width="3.2"/>
<path d="M1112.5 293.5C1114.2 295.7 1120.2 302.0 1122.4 306.7C1124.6 311.4 1125.4 316.7 1125.7 321.6C1126.0 326.6 1124.3 333.9 1124.0 336.4" fill="none" stroke="#221e1b" stroke-width="2.6"/>
<path d="M924.9 400L926.2 436.2L928.6 459.2C945 469 968 472.5 990 472.5C1013 472.5 1040 466 1053.8 454.2L1054.4 433.1L1055.5 396Z" fill="#7e7e7e"/>
<path d="M924.9 400L926.2 436.2C944 446 966 449.5 990 449.5C1014 449.5 1040 443 1054.2 433.1L1055.5 396Z" fill="#4c4c4c"/>
<path d="M928 412C945 424 966 428.5 990 428.5C1015 428.5 1040 422 1053 410" fill="none" stroke="#6e6e6e" stroke-width="2"/>
<path d="M924.9 400C924.9 384 950 373 986 372.5C1026 372 1055.5 382 1055.5 396C1055.5 412 1026 424.5 990 424.5C953 424.5 924.9 415 924.9 400Z" fill="#3a3a3a" stroke="#1c1a18" stroke-width="3.2"/>
<path d="M926.2 436.2C944 446 966 449.5 990 449.5C1014 449.5 1040 443 1054.2 433.1" fill="none" stroke="#1c1a18" stroke-width="3"/>
<path d="M924.9 400L926.2 436.2L928.6 459.2C945 469 968 472.5 990 472.5C1013 472.5 1040 466 1053.8 454.2L1054.4 433.1L1055.5 396" fill="none" stroke="#1c1a18" stroke-width="3.4" stroke-linejoin="round"/>
<path d="M940.5 390.5L945.5 378L950.5 376L952 388L946 392Z" fill="#e6e6e6" stroke="#2a2a2a" stroke-width="1"/>
<path d="M946 392L945.5 378L950.5 376" fill="none" stroke="#9a9a9a" stroke-width="1"/>
<path d="M952.2 409.6L959.6 398.4L969.5 414.5L966 415.5Z" fill="#d9d9d9" stroke="#2a2a2a" stroke-width="1"/>
<path d="M959.6 398.4L966 415.5" fill="none" stroke="#a0a0a0" stroke-width="1.2"/>
<defs><radialGradient id="pg" cx="1022" cy="398" r="48" gradientUnits="userSpaceOnUse"><stop offset="0" stop-color="#ffffff"/><stop offset="0.55" stop-color="#eeeeee"/><stop offset="1" stop-color="#c8c8c8"/></radialGradient></defs>
<path d="M973.3 387.3C972.5 383.2 971.6 376.4 972.0 372.4C972.4 368.4 973.8 367.0 975.7 363.4C977.6 359.8 980.1 354.7 983.2 351.0C986.3 347.3 990.2 343.8 994.3 341.1C998.4 338.4 1004.1 336.1 1008.0 334.9C1011.9 333.6 1014.2 333.1 1017.9 333.6C1021.6 334.1 1026.7 334.9 1030.0 338.0C1033.3 341.1 1036.3 346.7 1038.0 352.0C1039.7 357.3 1039.4 364.7 1040.0 370.0C1040.6 375.3 1039.9 380.5 1041.4 383.6C1042.9 386.7 1047.0 386.6 1048.9 388.5C1050.8 390.4 1052.0 392.4 1052.6 394.7C1053.2 397.0 1053.6 399.2 1052.6 402.1C1051.6 405.0 1049.5 409.3 1046.4 412.0C1043.3 414.7 1038.1 416.9 1034.0 418.3C1029.9 419.8 1025.9 420.5 1021.6 420.7C1017.3 420.9 1012.5 420.5 1008.0 419.5C1003.5 418.5 998.2 416.6 994.3 414.5C990.4 412.4 987.3 410.0 984.4 407.1C981.5 404.2 978.9 400.5 977.0 397.2C975.1 393.9 974.1 391.4 973.3 387.3Z" fill="url(#pg)" stroke="#1c1a18" stroke-width="3.2"/>
<path d="M977.5 388.0C977.4 385.4 976.4 376.5 976.8 372.4C977.2 368.3 978.3 366.8 980.0 363.4C981.7 360.0 984.2 355.4 987.0 352.0C989.8 348.6 993.2 345.4 997.0 343.0C1000.8 340.6 1007.8 338.4 1010.0 337.5" fill="none" stroke="#b9b9b9" stroke-width="1.6"/>
<path d="M995.3 346.3L1010.3 340.8L1011.9 345.2L996.9 350.8Z" fill="#5e5e5e"/>
<path d="M981 368.5Q984 366.6 989.5 366.5L990.8 387.5Q986 388 982.5 389.2Z" fill="#5e5e5e"/>
<path d="M1026.5 383.2L1039.5 381.2L1043 389.2L1030 391.6Z" fill="#4a4a4a"/>
<path d="M1030.5 389.8L1034.5 382.8L1040.5 388.2Z" fill="#e8e8e8"/>
<path d="M1006 411.5L1027.5 405.2L1029.5 409.8L1008.5 415.8Z" fill="#4a4a4a"/>
<path d="M1010 412L1020.8 400.6L1026.8 407.6Z" fill="#dcdcdc"/>
<path d="M1020.8 400.6L1026.8 407.6L1022.5 409Z" fill="#b0b0b0"/>
<path d="M1016.6 333.1C1018.2 329.2 1022.1 325.7 1026.5 323.2C1030.9 320.7 1038.0 319.3 1043.0 318.3C1048.0 317.3 1052.4 317.1 1056.3 317.4C1060.2 317.7 1063.5 318.4 1066.2 319.9C1069.0 321.4 1071.2 323.8 1072.8 326.5C1074.4 329.2 1075.5 333.3 1076.1 336.4C1076.6 339.5 1076.4 341.7 1076.1 345.0C1075.8 348.3 1075.9 352.6 1074.5 356.4C1073.1 360.2 1070.7 365.0 1067.9 368.0C1065.1 371.0 1061.5 373.0 1057.9 374.6C1054.3 376.2 1050.0 377.6 1046.4 377.9C1042.8 378.2 1039.7 377.7 1036.4 376.3C1033.1 374.9 1029.2 372.4 1026.5 369.7C1023.8 366.9 1021.5 363.7 1019.9 359.8C1018.2 355.9 1017.1 350.9 1016.6 346.5C1016.1 342.1 1015.0 337.0 1016.6 333.1Z" fill="#ffffff" stroke="#221e1b" stroke-width="3.3"/>
</g><!--/p2-->
<g id="p3" fill="none" stroke-linecap="round" stroke-linejoin="round">
<path d="M107.2 850.0L123.7 886.4L140.2 922.7" fill="none" stroke="#221e1b" stroke-width="3.5"/>
<path d="M120.4 927.7C123.7 927.3 133.3 925.9 140.2 925.2C147.1 924.5 154.8 924.7 161.7 923.6C168.6 922.5 175.5 920.4 181.6 918.6C187.6 916.8 195.0 914.0 198.1 912.8C201.1 911.6 197.7 912.5 199.9 911.2C202.2 909.8 207.6 906.7 211.5 904.5C215.3 902.3 218.9 900.1 223.1 897.9C227.2 895.7 231.3 893.3 236.3 891.3C241.2 889.4 247.3 887.5 252.8 886.4C258.3 885.3 263.8 884.7 269.3 884.7C274.8 884.7 280.9 885.3 285.9 886.4C290.8 887.5 295.2 889.4 299.1 891.3C302.9 893.3 306.0 895.5 309.0 897.9C312.0 900.4 314.2 904.5 317.3 906.2C320.3 907.9 323.6 907.7 327.2 907.9C330.8 908.0 335.2 907.4 338.8 907.0C342.3 906.6 345.4 905.1 348.7 905.4C352.0 905.6 355.4 906.8 358.6 908.7C361.8 910.5 365.3 913.7 368.0 916.4C370.7 919.0 372.7 921.9 374.6 924.6C376.6 927.4 377.4 930.7 379.6 932.9C381.8 935.1 383.7 935.9 387.9 937.9C392.0 939.8 398.9 942.3 404.4 944.5C409.9 946.7 415.4 948.6 420.9 951.1C426.4 953.6 431.9 956.6 437.4 959.3C442.9 962.1 449.3 964.6 454.0 967.6C458.7 970.6 462.5 974.2 465.5 977.5C468.6 980.8 470.8 984.4 472.1 987.4C473.5 990.5 473.8 992.9 473.8 995.7C473.8 998.5 473.3 1000.7 472.1 1004.0C471.0 1007.3 469.4 1009.6 467.2 1015.5C465.0 1021.4 461.1 1032.5 458.9 1039.3C456.7 1046.2 455.4 1051.9 454.0 1056.7C452.5 1061.4 451.9 1064.3 450.2 1067.9C448.6 1071.4 446.7 1073.3 444.0 1077.8C441.3 1082.2 437.0 1090.0 434.0 1094.6C431.1 1099.3 429.3 1101.9 426.6 1105.8C423.9 1109.7 420.6 1114.3 417.9 1118.2C415.2 1122.1 412.4 1126.4 410.5 1129.3C408.6 1132.2 407.4 1134.5 406.8 1135.5" fill="none" stroke="#221e1b" stroke-width="3.5"/>
<path d="M8.0 980.6C9.7 982.0 13.8 985.3 17.9 988.8C22.0 992.4 27.6 997.1 32.8 1002.1C38.0 1007.0 44.4 1013.4 49.3 1018.6C54.3 1023.8 59.4 1029.4 62.5 1033.5C65.7 1037.6 65.9 1039.6 68.3 1043.1C70.6 1046.7 73.5 1050.6 76.5 1054.7C79.6 1058.8 82.9 1063.8 86.4 1067.9C90.0 1072.1 93.6 1075.9 98.0 1079.5C102.4 1083.1 107.7 1086.5 112.9 1089.4C118.1 1092.3 123.9 1095.1 129.4 1096.9C134.9 1098.7 141.0 1099.5 146.0 1100.2C150.9 1100.8 155.3 1100.8 159.2 1100.7C163.0 1100.5 167.4 1099.6 169.1 1099.3" fill="none" stroke="#221e1b" stroke-width="3.5"/>
<path d="M103.0 981.4C103.7 982.9 105.1 988.0 107.2 990.5C109.2 993.0 112.1 994.1 115.4 996.3C118.7 998.5 125.1 1002.5 127.0 1003.7" fill="none" stroke="#221e1b" stroke-width="3.5"/>
<path d="M140.2 963.2C141.9 965.0 147.4 970.5 150.1 974.0C152.9 977.4 155.1 980.6 156.8 983.9C158.4 987.2 158.8 990.6 160.1 993.8C161.3 997.0 163.5 1001.4 164.2 1002.9" fill="none" stroke="#221e1b" stroke-width="3.5"/>
<path d="M159.2 959.9C161.0 962.3 166.5 969.1 170.0 974.0C173.4 978.8 176.9 983.9 179.9 988.8C182.9 993.8 185.7 999.3 188.2 1003.7C190.6 1008.1 191.5 1011.2 194.8 1015.3C198.1 1019.4 205.8 1026.3 208.0 1028.5" fill="none" stroke="#221e1b" stroke-width="3.5"/>
<path d="M190.0 1035.1L198.3 1035.1" fill="none" stroke="#221e1b" stroke-width="3.5"/>
<path d="M102.1 1052.2C104.8 1053.5 112.8 1057.3 117.9 1059.7C122.9 1062.0 128.3 1064.1 132.7 1066.3C137.1 1068.5 140.7 1070.1 144.3 1072.9C147.9 1075.6 150.9 1079.5 154.2 1082.8C157.5 1086.1 161.1 1089.7 164.1 1092.7C167.2 1095.8 169.1 1097.7 172.4 1101.0C175.7 1104.3 180.1 1108.7 184.0 1112.6C187.8 1116.4 192.0 1121.2 195.5 1124.1C199.1 1127.0 201.9 1128.9 205.5 1129.9C209.0 1131.0 213.4 1130.8 217.0 1130.4C220.6 1130.0 224.2 1128.8 226.9 1127.4C229.7 1126.1 232.2 1125.0 233.6 1122.5C234.9 1120.0 234.9 1115.9 235.2 1112.6C235.5 1109.3 234.7 1106.0 235.2 1102.6C235.8 1099.3 237.5 1095.5 238.5 1092.7C239.5 1090.0 240.6 1087.2 241.0 1086.1" fill="none" stroke="#221e1b" stroke-width="3.5"/>
<path d="M198.8 1020.0C200.5 1021.7 205.5 1026.6 208.8 1029.9C212.1 1033.2 215.4 1036.3 218.7 1039.8C222.0 1043.4 226.1 1047.8 228.6 1051.4C231.1 1055.0 232.0 1057.5 233.6 1061.3C235.1 1065.2 236.4 1070.4 237.7 1074.5C238.9 1078.7 240.4 1084.2 241.0 1086.1" fill="none" stroke="#221e1b" stroke-width="3.5"/>
<path d="M223.6 1072.9C222.0 1071.9 217.0 1073.0 213.7 1073.7C210.4 1074.4 206.8 1075.0 203.8 1077.0C200.8 1079.1 197.5 1082.7 195.5 1086.1C193.6 1089.6 192.5 1094.1 192.2 1097.7C192.0 1101.3 192.2 1104.4 193.9 1107.6C195.5 1110.8 199.7 1117.5 202.1 1116.7C204.6 1115.9 206.3 1107.2 208.8 1102.6C211.2 1098.1 214.5 1093.3 217.0 1089.4C219.5 1085.6 222.5 1082.3 223.6 1079.5C224.7 1076.7 225.3 1073.9 223.6 1072.9Z" fill="none" stroke="#221e1b" stroke-width="3.5"/>
<path d="M157.5 1069.6C157.8 1067.7 157.8 1061.6 159.2 1058.0C160.6 1054.4 162.8 1051.1 165.8 1048.1C168.8 1045.1 172.9 1041.9 177.4 1039.8C181.8 1037.8 188.7 1036.5 192.2 1035.7C195.8 1034.9 197.7 1035.3 198.8 1035.2" fill="none" stroke="#221e1b" stroke-width="3.5"/>
<path d="M168.3 1074.5C169.0 1072.3 170.3 1065.2 172.4 1061.3C174.5 1057.5 177.4 1054.2 180.7 1051.4C184.0 1048.7 188.5 1046.2 192.2 1044.8C196.0 1043.4 201.2 1043.4 203.0 1043.1" fill="none" stroke="#221e1b" stroke-width="3.5"/>
<path d="M228.0 973.1C227.7 974.7 226.4 978.5 226.4 982.2C226.4 986.0 226.9 991.0 228.0 995.5C229.1 999.9 231.9 1004.3 233.0 1008.7C234.1 1013.1 234.9 1018.0 234.6 1021.9C234.4 1025.8 233.3 1028.5 231.3 1031.8C229.4 1035.1 224.4 1040.1 223.1 1041.7" fill="none" stroke="#221e1b" stroke-width="3.5"/>
<path d="M241.2 935.1C241.1 937.5 240.1 944.6 240.4 949.2C240.7 953.7 241.7 958.5 242.9 962.4C244.1 966.3 245.6 969.0 247.9 972.3C250.1 975.6 254.2 978.7 256.1 982.2C258.0 985.8 258.9 989.7 259.4 993.8C260.0 997.9 260.0 1002.6 259.4 1007.0C258.9 1011.4 257.8 1016.1 256.1 1020.2C254.5 1024.4 252.3 1028.5 249.5 1031.8C246.7 1035.1 242.9 1037.3 239.6 1040.1C236.3 1042.8 231.3 1047.0 229.7 1048.3" fill="none" stroke="#221e1b" stroke-width="3.5"/>
<path d="M267.7 954.1C268.5 956.6 270.4 964.3 272.6 969.0C274.8 973.7 277.9 978.1 280.9 982.2C283.9 986.4 287.7 990.5 290.8 993.8C294.0 997.1 298.0 1000.1 299.9 1002.1C301.8 1004.0 302.0 1004.8 302.4 1005.4" fill="none" stroke="#221e1b" stroke-width="3.5"/>
<path d="M256.1 982.2C258.3 983.9 264.4 989.3 269.3 992.1C274.3 995.0 280.6 997.5 285.9 999.6C291.1 1001.7 298.3 1003.7 300.7 1004.5" fill="none" stroke="#221e1b" stroke-width="3.5"/>
<path d="M259.8 1012.7C261.4 1013.4 266.4 1015.6 269.7 1016.7C273.0 1017.8 276.3 1018.6 279.6 1019.2C282.9 1019.8 286.2 1020.2 289.5 1020.2C292.8 1020.1 297.1 1019.2 299.4 1018.7C301.7 1018.2 302.7 1017.4 303.4 1017.2" fill="none" stroke="#221e1b" stroke-width="3.5"/>
<path d="M301.6 979.8C301.4 981.8 300.7 987.9 300.7 992.1C300.7 996.4 300.7 1001.0 301.6 1005.4C302.4 1009.8 303.6 1014.5 305.7 1018.6C307.8 1022.7 311.2 1026.6 314.0 1030.2C316.7 1033.7 321.0 1038.5 322.2 1040.1C323.4 1041.6 321.2 1037.9 321.2 1039.5C321.2 1041.1 321.7 1045.8 322.2 1049.4C322.7 1053.1 323.2 1057.7 324.2 1061.3C325.2 1065.0 326.7 1068.3 328.2 1071.2C329.7 1074.2 331.7 1076.9 333.1 1079.2C334.6 1081.5 336.1 1083.5 337.1 1085.1C338.1 1086.8 338.8 1088.4 339.1 1089.1" fill="none" stroke="#221e1b" stroke-width="3.5"/>
<path d="M321.2 1039.5C321.9 1038.8 323.9 1036.7 325.2 1035.5C326.5 1034.4 328.5 1033.1 329.2 1032.6" fill="none" stroke="#221e1b" stroke-width="3.5"/>
<path d="M318.9 907.9C320.9 909.8 326.6 915.6 330.5 919.4C334.4 923.3 338.2 927.1 342.1 931.0C345.9 934.8 350.1 939.0 353.6 942.6C357.2 946.1 360.8 949.4 363.6 952.5C366.3 955.5 368.5 958.0 370.2 960.7C371.8 963.5 372.8 965.4 373.5 969.0C374.2 972.6 374.2 979.2 374.3 982.2C374.4 985.3 374.0 983.8 373.8 987.4C373.6 991.1 372.6 998.5 373.0 1004.0C373.4 1009.5 374.9 1015.0 376.3 1020.5C377.7 1026.0 380.0 1031.5 381.2 1037.0C382.5 1042.5 383.7 1048.0 383.7 1053.6C383.7 1059.1 381.9 1065.7 381.2 1070.1C380.6 1074.5 379.9 1078.3 379.6 1080.0" fill="none" stroke="#221e1b" stroke-width="3.5"/>
<path d="M334.6 940.1C336.7 940.8 343.3 942.7 347.0 944.2C350.7 945.7 354.2 947.7 356.9 949.2C359.7 950.7 362.5 952.6 363.6 953.3" fill="none" stroke="#221e1b" stroke-width="3.5"/>
<path d="M336.3 961.6C338.3 962.4 343.9 964.5 348.7 966.5C353.5 968.6 361.1 973.1 365.2 974.0C369.3 974.8 372.1 971.9 373.5 971.5" fill="none" stroke="#221e1b" stroke-width="3.5"/>
<path d="M370.5 1029.6C371.2 1030.3 373.1 1032.1 374.6 1033.7C376.1 1035.4 378.8 1038.5 379.6 1039.5" fill="none" stroke="#221e1b" stroke-width="3.5"/>
<path d="M386.2 937.9C387.9 939.2 392.3 943.4 396.1 946.1C400.0 948.9 404.9 951.9 409.3 954.4C413.7 956.9 418.7 958.0 422.6 961.0C426.4 964.0 429.9 968.4 432.5 972.6C435.1 976.7 437.2 980.6 438.3 985.8C439.4 991.0 439.2 998.2 439.1 1004.0C439.0 1009.8 438.1 1015.0 437.4 1020.5C436.7 1026.0 435.5 1031.6 435.0 1037.0C434.4 1042.4 434.7 1047.2 434.1 1053.0C433.6 1058.7 432.3 1066.4 431.7 1071.6C431.0 1076.7 431.0 1079.8 430.4 1084.0C429.8 1088.1 430.6 1090.7 427.9 1096.4C425.2 1102.1 417.5 1112.7 414.2 1118.2C410.9 1123.7 409.0 1127.5 408.0 1129.3" fill="none" stroke="#221e1b" stroke-width="3.5"/>
<path d="M334.1 940.3C336.2 941.0 342.5 942.4 346.5 944.5C350.5 946.5 355.3 951.1 358.1 952.7C360.9 954.4 362.2 954.1 363.1 954.4" fill="none" stroke="#221e1b" stroke-width="3.5"/>
<path d="M335.8 961.8C338.1 962.8 344.9 965.5 349.8 967.6C354.8 969.7 361.5 973.7 365.5 974.2C369.5 974.8 372.4 971.5 373.8 970.9" fill="none" stroke="#221e1b" stroke-width="3.5"/>
<path d="M395.7 968.7C397.1 968.2 401.9 965.8 404.4 965.6C406.9 965.4 408.5 966.3 410.6 967.4C412.6 968.6 413.7 970.1 416.8 972.4C419.9 974.7 427.1 979.6 429.2 981.1" fill="none" stroke="#221e1b" stroke-width="3.5"/>
<path d="M395.1 974.9C395.8 976.3 397.7 981.1 399.4 983.6C401.2 986.0 403.1 988.2 405.6 989.8C408.1 991.3 411.3 991.8 414.3 992.9C417.3 993.9 422.0 995.4 423.6 996.0" fill="none" stroke="#221e1b" stroke-width="3.5"/>
<path d="M445.9 973.0C447.0 975.4 450.1 984.1 452.7 987.3C455.3 990.5 458.5 990.0 461.4 992.2C464.3 994.5 468.6 999.5 470.1 1000.9" fill="none" stroke="#221e1b" stroke-width="3.5"/>
<path d="M405.0 1069.7C407.0 1070.3 413.2 1071.9 416.8 1073.4C420.4 1075.0 425.0 1078.1 426.7 1079.0" fill="none" stroke="#221e1b" stroke-width="3.5"/>
<path d="M368.4 960.0C369.3 961.7 372.4 965.8 373.4 969.9C374.4 974.0 374.6 979.2 374.6 984.8C374.6 990.4 373.4 998.2 373.4 1003.4C373.4 1008.6 373.8 1011.4 374.6 1015.8C375.5 1020.1 377.1 1025.3 378.3 1029.4C379.6 1033.6 381.2 1036.7 382.1 1040.6C382.9 1044.5 383.3 1048.8 383.3 1053.0C383.3 1057.1 382.7 1061.2 382.1 1065.4C381.4 1069.5 380.2 1073.6 379.6 1077.8C379.0 1081.9 378.5 1086.0 378.3 1090.2C378.2 1094.3 378.4 1103.5 378.6 1102.6C378.8 1101.7 379.5 1085.6 379.5 1084.7C379.6 1083.8 378.9 1093.0 378.9 1097.1C378.9 1101.2 379.6 1105.8 379.5 1109.5C379.4 1113.2 378.5 1117.8 378.3 1119.4" fill="none" stroke="#221e1b" stroke-width="3.5"/>
<path d="M370.9 1028.8C371.7 1029.5 374.4 1031.2 375.9 1033.1C377.3 1035.1 379.0 1039.3 379.6 1040.6" fill="none" stroke="#221e1b" stroke-width="3.5"/>
<path d="M376.4 1088.4C376.2 1087.8 375.9 1086.3 375.2 1084.7C374.4 1083.2 373.4 1080.1 372.1 1079.1C370.7 1078.2 368.6 1078.2 367.1 1079.1C365.7 1080.1 364.1 1081.7 363.4 1084.7C362.7 1087.7 362.6 1093.0 362.8 1097.1C363.0 1101.2 363.5 1106.0 364.6 1109.5C365.8 1113.0 367.7 1116.1 369.6 1118.2C371.4 1120.2 374.8 1121.3 375.8 1121.9" fill="none" stroke="#221e1b" stroke-width="3.5"/>
<path d="M404.3 1069.8C406.0 1070.2 410.5 1070.8 414.2 1072.3C417.9 1073.9 424.5 1078.0 426.6 1079.1" fill="none" stroke="#221e1b" stroke-width="3.5"/>
<path d="M232.4 1050.0C232.8 1051.2 233.8 1054.3 234.9 1057.4C235.9 1060.5 237.6 1064.7 238.6 1068.6C239.6 1072.5 240.6 1077.9 241.1 1081.0C241.6 1084.1 241.6 1086.2 241.7 1087.2" fill="none" stroke="#221e1b" stroke-width="3.5"/>
<path d="M220.0 1131.8C221.2 1131.4 225.4 1130.4 227.4 1129.3C229.5 1128.3 231.2 1127.7 232.4 1125.6C233.6 1123.6 234.7 1120.2 234.9 1116.9C235.1 1113.6 233.4 1109.1 233.6 1105.8C233.8 1102.5 235.0 1099.3 236.1 1097.1C237.3 1094.9 239.7 1093.5 240.5 1092.8" fill="none" stroke="#221e1b" stroke-width="3.5"/>
<path d="M321.7 1050.0C321.9 1052.1 321.9 1058.3 322.9 1062.4C323.9 1066.5 326.4 1071.5 327.9 1074.8C329.3 1078.1 329.7 1080.0 331.6 1082.2C333.4 1084.5 337.8 1087.4 339.0 1088.4" fill="none" stroke="#221e1b" stroke-width="3.5"/>
<path d="M339.8 1119.4C340.7 1120.5 342.7 1123.8 344.8 1125.6C346.9 1127.5 349.5 1129.4 352.2 1130.6C354.9 1131.7 358.0 1132.5 360.9 1132.4C363.8 1132.3 368.1 1130.4 369.6 1130.0" fill="none" stroke="#221e1b" stroke-width="3.5"/>
<path d="M240.5 1092.8C237.5 1096 236 1100 236 1104L236.4 1115L238.6 1131.8C252 1139 268 1142.4 288 1142.6C308 1142.4 325 1139 337.8 1131.8L339.8 1115L339.8 1104C339.8 1099 339 1094 337.7 1090.9Z" fill="#6a6a6a"/>
<path d="M240.5 1092.8C237.5 1096 236 1100 236 1104L236.2 1113.2C252 1121 268 1124.4 288 1124.5C308 1124.4 326 1121 339.6 1114.5L339.8 1104C339.8 1099 339 1094 337.7 1090.9Z" fill="#a8a8a8"/>
<ellipse cx="289" cy="1092" rx="48.6" ry="15.4" fill="#a4a4a4" stroke="#1c1a18" stroke-width="3.3"/>
<path d="M236.2 1113.2C252 1121 268 1124.4 288 1124.5C308 1124.4 326 1121 339.6 1114.5" fill="none" stroke="#1c1a18" stroke-width="3.3"/>
<path d="M240.5 1092.8C237.5 1096 236 1100 236 1104L236.4 1115L238.6 1131.8C252 1139 268 1142.4 288 1142.6C308 1142.4 325 1139 337.8 1131.8L339.8 1115L339.8 1104C339.8 1099 339 1094 337.7 1090.9" fill="none" stroke="#1c1a18" stroke-width="3.5" stroke-linejoin="round"/>
<path d="M253 1138.8L260.9 1148.6L266.5 1142" fill="#f2f2f2" stroke="#1c1a18" stroke-width="2.4" stroke-linejoin="round"/>
<path d="M313.8 1142.4L320.4 1147.9L325.8 1137.6" fill="#f2f2f2" stroke="#1c1a18" stroke-width="2.4" stroke-linejoin="round"/>
<path d="M360.9 1133.1C359.7 1136.3 360.3 1145.0 360.9 1149.2C361.5 1153.3 362.6 1155.2 364.6 1157.9C366.7 1160.5 370.6 1163.6 373.3 1165.3C376.0 1166.9 378.3 1167.8 380.7 1167.8C383.2 1167.8 385.7 1166.9 388.2 1165.3C390.7 1163.6 393.6 1160.7 395.6 1157.9C397.7 1155.0 399.1 1151.4 400.6 1147.9C402.0 1144.4 403.4 1140.3 404.3 1136.8C405.2 1133.3 406.2 1129.8 406.2 1126.9C406.2 1124.0 405.4 1121.3 404.3 1119.4C403.2 1117.6 401.2 1116.4 399.3 1115.7C397.5 1115.0 395.2 1114.8 393.1 1115.1C391.1 1115.4 389.2 1116.2 386.9 1117.6C384.7 1118.9 382.0 1121.5 379.5 1123.1C377.0 1124.8 373.9 1126.3 372.1 1127.5C370.2 1128.6 370.2 1129.0 368.3 1130.0C366.5 1130.9 362.1 1129.9 360.9 1133.1Z" fill="#ffffff" stroke="#221e1b" stroke-width="3.5"/>
<path d="M369.0 1130.6C369.0 1132.4 368.5 1138.4 369.0 1141.7C369.5 1145.0 370.5 1147.9 372.1 1150.4C373.6 1152.9 376.0 1155.1 378.3 1156.6C380.5 1158.2 383.3 1159.2 385.7 1159.7C388.1 1160.2 391.4 1159.7 392.5 1159.7" fill="none" stroke="#221e1b" stroke-width="3.5"/>
<path d="M287.6 1009.8V1018.2" stroke="#1c1a18" stroke-width="2.5"/>
<path d="M287.6 1036.5V1055.4" stroke="#1c1a18" stroke-width="2.5"/>
<path d="M287.6 1072.2V1090.1" stroke="#1c1a18" stroke-width="2.5"/>
<path d="M287.6 1107V1124.4" stroke="#1c1a18" stroke-width="2.5"/>
<path d="M287.6 1144.2V1161.6" stroke="#1c1a18" stroke-width="2.5"/>
<path d="M287.6 1177.7V1195" stroke="#1c1a18" stroke-width="2.5"/>
<path d="M287.6 1213.7V1225.6" stroke="#1c1a18" stroke-width="2.5"/>
<path d="M287.6 1249.4V1267.3" stroke="#1c1a18" stroke-width="2.5"/>
<path d="M287.6 1283.1V1303" stroke="#1c1a18" stroke-width="2.5"/>
<path d="M287.6 1318.8V1338.7" stroke="#1c1a18" stroke-width="2.5"/>
<path d="M182.9 1237.9H194.8" stroke="#1c1a18" stroke-width="2.5"/>
<path d="M209.7 1237.9H224.5" stroke="#1c1a18" stroke-width="2.5"/>
<path d="M244.4 1237.9H263.2" stroke="#1c1a18" stroke-width="2.5"/>
<path d="M278.1 1237.9H296.9" stroke="#1c1a18" stroke-width="2.5"/>
<path d="M312.8 1237.9H331.7" stroke="#1c1a18" stroke-width="2.5"/>
<path d="M348.5 1237.9H365.4" stroke="#1c1a18" stroke-width="2.5"/>
<path d="M380.2 1237.9H392.1" stroke="#1c1a18" stroke-width="2.5"/>
<path d="M262.3 1173L287.8 1198.2L313.8 1173" fill="none" stroke="#1c1a18" stroke-width="7.2" stroke-linecap="round" stroke-linejoin="miter"/>
<ellipse cx="288" cy="1237.6" rx="63.4" ry="18.9" fill="none" stroke="#1c1a18" stroke-width="3.5"/>
<path d="M224.6 1237.6C221.5 1241 220.6 1246 220.6 1251.4V1347M351.4 1237.6C354 1241 354.5 1246 354.5 1251.4V1347" fill="none" stroke="#1c1a18" stroke-width="3.3"/>
<path d="M220.6 1251.4C236 1263 262 1269.3 288 1269.3C314 1269.3 340 1263 354.5 1251.4" fill="none" stroke="#1c1a18" stroke-width="3.5"/>
</g><!--/p3-->
<g id="p4" fill="none" stroke-linecap="round" stroke-linejoin="round">
<path d="M777.6 851.7C779.2 853.3 783.6 857.4 787.5 861.6C791.3 865.7 797.1 872.6 800.7 876.4C804.3 880.3 806.9 882.0 809.0 884.7C811.0 887.5 812.3 890.6 813.1 893.0C813.9 895.3 813.8 897.8 813.9 898.8" fill="none" stroke="#221e1b" stroke-width="3.4"/>
<path d="M686.7 916.9C691.9 916.0 707.3 912.9 718.1 911.2C728.8 909.4 740.1 907.7 751.1 906.2C762.1 904.7 773.2 903.4 784.2 902.1C795.2 900.7 806.8 899.9 817.2 897.9C827.7 896.0 838.7 893.0 847.0 890.5C855.2 888.0 861.3 884.8 866.8 883.1C872.3 881.3 874.4 881.4 879.8 879.8C885.3 878.1 896.4 874.2 899.7 873.1" fill="none" stroke="#221e1b" stroke-width="3.4"/>
<path d="M899.7 873.1L903.8 858.3L903.3 853.0" fill="none" stroke="#221e1b" stroke-width="3.4"/>
<path d="M686.7 978.1C691.9 977.1 707.3 974.4 718.1 972.3C728.8 970.2 740.1 967.8 751.1 965.7C762.1 963.6 775.4 961.4 784.2 959.9C793.0 958.4 797.1 957.7 804.0 956.6C810.9 955.5 819.2 954.0 825.5 953.3C831.8 952.6 836.5 952.5 842.0 952.5C847.5 952.5 854.4 952.9 858.6 953.3C862.7 953.7 862.4 954.4 866.8 955.0C871.2 955.5 882.0 956.3 885.0 956.6" fill="none" stroke="#221e1b" stroke-width="3.4"/>
<path d="M847.0 890.5L860.2 956.6" fill="none" stroke="#221e1b" stroke-width="3.4"/>
<path d="M856.9 888.8L868.5 955.0" fill="none" stroke="#221e1b" stroke-width="3.4"/>
<path d="M686.7 1012.0C689.1 1009.5 696.3 1002.1 701.5 997.1C706.8 992.1 711.2 986.9 718.1 982.2C724.9 977.5 738.7 971.2 742.9 969.0" fill="none" stroke="#221e1b" stroke-width="3.4"/>
<path d="M804.0 956.6C806.2 960.9 812.3 973.6 817.2 982.2C822.2 990.9 828.3 999.9 833.8 1008.7C839.3 1017.5 846.2 1028.2 850.3 1035.1C854.4 1042.0 855.8 1044.2 858.6 1050.0C861.3 1055.8 862.4 1059.8 866.8 1069.8C871.2 1079.7 882.0 1103.6 885.0 1109.4C888.0 1115.3 883.9 1103.0 884.8 1104.9C885.7 1106.7 889.6 1118.0 890.6 1120.6" fill="none" stroke="#221e1b" stroke-width="3.4"/>
<path d="M860.0 955.8C862.8 955.8 871.0 955.2 876.5 955.8C882.0 956.3 887.5 957.4 893.1 959.1C898.6 960.7 904.6 962.9 909.6 965.7C914.5 968.5 919.0 972.0 922.8 975.6C926.7 979.2 929.7 983.1 932.7 987.2C935.8 991.3 939.3 996.3 941.0 1000.4C942.6 1004.5 942.6 1008.1 942.6 1012.0C942.6 1015.8 941.1 1022.2 941.0 1023.6C940.9 1024.9 942.3 1019.0 941.8 1019.8C941.3 1020.7 939.0 1026.3 937.9 1028.8C936.7 1031.2 935.4 1033.4 934.9 1034.7C934.3 1036.1 934.7 1036.5 934.7 1036.9" fill="none" stroke="#221e1b" stroke-width="3.4"/>
<path d="M921.2 853.3C922.8 856.1 928.0 863.5 931.1 869.8C934.1 876.2 937.4 883.6 939.3 891.3C941.3 899.0 941.8 907.9 942.6 916.1C943.5 924.4 943.9 931.3 944.3 940.9C944.7 950.6 944.0 965.7 945.1 974.0C946.2 982.2 949.7 985.0 950.9 990.5C952.1 996.0 952.8 1002.1 952.6 1007.0C952.4 1011.9 950.7 1016.2 949.8 1019.8C948.8 1023.5 947.4 1026.6 946.8 1028.8C946.1 1030.9 946.0 1032.1 945.8 1032.7" fill="none" stroke="#221e1b" stroke-width="3.4"/>
<path d="M950.9 853.3C952.8 856.9 958.9 867.1 962.5 874.8C966.1 882.5 969.6 892.1 972.4 899.6C975.2 907.0 977.5 913.4 979.0 919.4C980.5 925.5 980.4 932.4 981.5 936.0C982.6 939.5 984.9 940.1 985.6 940.9" fill="none" stroke="#221e1b" stroke-width="3.4"/>
<path d="M972.4 853.3C974.3 857.2 980.7 868.7 984.0 876.4C987.3 884.2 989.8 892.4 992.2 899.6C994.7 906.7 997.3 913.4 998.8 919.4C1000.4 925.5 1000.9 933.2 1001.3 936.0" fill="none" stroke="#221e1b" stroke-width="3.4"/>
<path d="M985.6 940.9L1001.3 936.0" fill="none" stroke="#221e1b" stroke-width="3.4"/>
<path d="M980.7 939.3C979.3 941.2 975.2 946.7 972.4 950.8C969.6 955.0 965.5 958.8 964.1 964.0C962.8 969.3 963.3 975.1 964.1 982.2C965.0 989.4 967.9 1001.9 969.1 1007.0C970.3 1012.1 970.7 1009.9 971.6 1012.9C972.4 1015.9 973.6 1022.1 974.0 1024.8C974.5 1027.4 974.5 1028.1 974.5 1028.8" fill="none" stroke="#221e1b" stroke-width="3.4"/>
<path d="M987.3 942.6C987.0 944.2 986.2 948.6 985.6 952.5C985.1 956.3 984.0 959.4 984.0 965.7C984.0 972.0 984.2 983.6 985.6 990.5C987.0 997.4 990.6 1004.1 992.2 1007.0C993.9 1009.9 993.7 1006.6 995.4 1007.9C997.1 1009.2 1000.2 1012.9 1002.3 1014.9C1004.5 1016.9 1007.3 1019.0 1008.3 1019.8" fill="none" stroke="#221e1b" stroke-width="3.4"/>
<path d="M998.8 937.6C997.7 939.5 993.9 944.5 992.2 949.2C990.6 953.9 989.2 958.8 988.9 965.7C988.7 972.6 989.2 983.6 990.6 990.5C992.0 997.4 995.7 1004.0 997.2 1007.0C998.7 1010.1 997.8 1007.5 999.3 1008.9C1000.9 1010.4 1004.8 1014.0 1006.3 1015.9C1007.8 1017.7 1007.9 1019.2 1008.3 1019.8" fill="none" stroke="#221e1b" stroke-width="3.4"/>
<path d="M934.9 1036.7C935.9 1039.8 939.0 1049.8 940.8 1055.5C942.6 1061.3 945.0 1068.8 945.8 1071.4" fill="none" stroke="#221e1b" stroke-width="4.6"/>
<path d="M1008.3 1019.8C1008.9 1022.8 1010.6 1031.6 1012.2 1037.7C1013.9 1043.8 1017.2 1053.4 1018.2 1056.5" fill="none" stroke="#221e1b" stroke-width="4.6"/>
<path d="M940.8 1071.9C942.3 1072.5 945.8 1074.6 949.8 1075.6C953.7 1076.5 959.7 1077.6 964.6 1077.6C969.6 1077.6 974.5 1076.6 979.5 1075.6C984.5 1074.6 989.8 1073.3 994.4 1071.6C999.0 1070.0 1003.8 1067.5 1007.3 1065.7C1010.7 1063.8 1013.4 1062.2 1015.2 1060.7C1017.0 1059.2 1017.7 1057.2 1018.2 1056.5" fill="none" stroke="#221e1b" stroke-width="3.4"/>
<path d="M934.9 1036.7L946.8 1033.7L956.7 1038.7L963.6 1071.4L966.6 1073.4L968.6 1070.4L962.6 1037.7L973.6 1028.8L983.5 1032.7L1001.3 1023.8L1008.3 1019.8" fill="none" stroke="#221e1b" stroke-width="3.4"/>
<path d="M686.7 1072.2C690.5 1075.1 701.8 1083.1 709.8 1089.6C717.8 1096.1 726.3 1103.9 734.6 1111.1C742.9 1118.2 751.1 1125.7 759.4 1132.6C767.6 1139.4 776.7 1146.1 784.2 1152.4C791.6 1158.7 797.7 1164.5 804.0 1170.6C810.3 1176.6 816.7 1182.7 822.2 1188.8C827.7 1194.8 832.9 1201.4 837.1 1206.9C841.2 1212.5 844.0 1218.0 847.0 1221.8C850.0 1225.6 852.3 1227.1 855.0 1229.8C857.7 1232.4 860.2 1235.3 863.1 1237.9C866.0 1240.4 868.9 1242.7 872.4 1244.8C875.9 1246.9 879.7 1249.2 884.0 1250.6C888.2 1251.9 893.2 1252.7 897.9 1252.9C902.5 1253.1 909.4 1251.9 911.7 1251.7" fill="none" stroke="#221e1b" stroke-width="3.4"/>
<path d="M876.5 1124.7C879.3 1124.3 887.5 1123.1 893.1 1122.2C898.6 1121.4 904.1 1120.7 909.6 1119.8C915.1 1118.8 920.6 1118.1 926.1 1116.4C931.6 1114.8 937.1 1112.6 942.6 1109.8C948.2 1107.1 953.7 1102.5 959.2 1099.9C964.7 1097.3 970.2 1095.2 975.7 1094.1C981.2 1093.0 986.7 1092.8 992.2 1093.3C997.7 1093.9 1004.1 1095.5 1008.8 1097.4C1013.4 1099.4 1017.6 1102.8 1020.3 1104.9C1023.1 1106.9 1023.1 1108.9 1025.3 1109.8C1027.5 1110.8 1030.2 1110.9 1033.6 1110.7C1036.9 1110.4 1041.5 1108.0 1045.1 1108.2C1048.7 1108.3 1052.6 1110.2 1055.0 1111.5C1057.5 1112.8 1057.9 1113.9 1059.7 1116.1C1061.5 1118.3 1064.2 1122.5 1065.9 1124.8C1067.5 1127.1 1066.9 1128.1 1069.6 1129.8C1072.3 1131.4 1077.9 1133.1 1082.0 1134.7C1086.1 1136.4 1090.2 1137.8 1094.4 1139.7C1098.5 1141.5 1102.6 1143.8 1106.8 1145.9C1110.9 1147.9 1115.5 1149.8 1119.2 1152.1C1122.9 1154.3 1126.4 1156.8 1129.1 1159.5C1131.8 1162.2 1133.9 1165.5 1135.3 1168.2C1136.6 1170.9 1137.1 1172.9 1137.1 1175.6C1137.1 1178.3 1136.2 1181.2 1135.3 1184.3C1134.4 1187.4 1132.8 1190.5 1131.6 1194.2C1130.3 1197.9 1129.1 1202.5 1127.9 1206.6C1126.6 1210.7 1125.4 1215.3 1124.1 1219.0C1122.9 1222.7 1122.1 1225.8 1120.4 1228.9C1118.8 1232.0 1115.2 1235.8 1114.2 1237.6C1113.2 1239.4 1115.6 1237.7 1114.3 1239.8C1113.0 1241.8 1108.8 1246.4 1106.4 1249.7C1103.9 1253.0 1101.9 1256.0 1099.4 1259.6C1096.9 1263.2 1093.5 1268.2 1091.5 1271.5C1089.5 1274.8 1088.2 1278.1 1087.5 1279.4" fill="none" stroke="#221e1b" stroke-width="3.4"/>
<path d="M1025.0 1111.2C1026.6 1112.6 1031.6 1116.7 1034.9 1119.8C1038.2 1122.9 1041.5 1126.4 1044.8 1129.8C1048.1 1133.1 1051.8 1136.4 1054.7 1139.7C1057.6 1143.0 1060.6 1146.3 1062.1 1149.6C1063.7 1152.9 1063.8 1155.4 1064.0 1159.5C1064.2 1163.6 1063.3 1169.8 1063.4 1174.4C1063.5 1178.9 1063.8 1182.6 1064.6 1186.8C1065.5 1190.9 1067.3 1195.0 1068.3 1199.2C1069.4 1203.3 1070.4 1207.4 1070.8 1211.6C1071.2 1215.7 1071.2 1219.8 1070.8 1224.0C1070.4 1228.1 1068.5 1235.4 1068.3 1236.4C1068.2 1237.3 1069.8 1229.3 1069.7 1229.8C1069.6 1230.4 1068.1 1236.4 1067.7 1239.8C1067.3 1243.1 1067.2 1245.4 1067.2 1249.7C1067.2 1254.0 1067.6 1262.9 1067.7 1265.5" fill="none" stroke="#221e1b" stroke-width="3.4"/>
<path d="M1034.9 1134.1C1036.5 1134.6 1041.7 1135.8 1044.8 1137.2C1047.9 1138.5 1051.4 1141.0 1053.5 1142.1C1055.5 1143.3 1056.6 1143.7 1057.2 1144.0" fill="none" stroke="#221e1b" stroke-width="3.4"/>
<path d="M1036.1 1150.2C1038.0 1150.7 1043.8 1152.0 1047.3 1153.3C1050.8 1154.6 1054.7 1157.6 1057.2 1158.3C1059.7 1158.9 1061.3 1157.2 1062.1 1157.0" fill="none" stroke="#221e1b" stroke-width="3.4"/>
<path d="M1069.6 1131.0C1071.2 1132.0 1076.0 1134.9 1079.5 1137.2C1083.0 1139.5 1087.1 1142.1 1090.7 1144.6C1094.2 1147.1 1097.5 1149.4 1100.6 1152.1C1103.7 1154.8 1107.2 1157.9 1109.3 1160.7C1111.3 1163.6 1112.5 1165.1 1113.0 1169.4C1113.5 1173.8 1112.8 1180.8 1112.4 1186.8C1111.9 1192.8 1111.2 1199.2 1110.5 1205.4C1109.8 1211.6 1108.8 1218.2 1108.0 1224.0C1107.2 1229.8 1106.0 1237.5 1105.5 1240.1C1105.1 1242.7 1106.1 1237.8 1105.4 1239.8C1104.7 1241.7 1103.2 1247.5 1101.4 1251.7C1099.6 1255.8 1096.6 1260.6 1094.5 1264.5C1092.3 1268.5 1089.5 1273.6 1088.5 1275.5" fill="none" stroke="#221e1b" stroke-width="3.4"/>
<path d="M1079.5 1154.5C1080.7 1154.2 1084.5 1152.5 1086.9 1152.7C1089.4 1152.9 1091.3 1153.8 1094.4 1155.8C1097.5 1157.7 1103.7 1163.0 1105.5 1164.5" fill="none" stroke="#221e1b" stroke-width="3.4"/>
<path d="M1080.1 1159.5C1080.6 1160.7 1081.7 1164.9 1083.2 1166.9C1084.8 1169.0 1086.5 1170.6 1089.4 1171.9C1092.3 1173.2 1098.7 1174.5 1100.6 1175.0" fill="none" stroke="#221e1b" stroke-width="3.4"/>
<path d="M1116.7 1158.3C1117.7 1159.9 1120.8 1165.7 1122.9 1168.2C1125.0 1170.7 1127.0 1171.5 1129.1 1173.1C1131.2 1174.8 1134.3 1177.3 1135.3 1178.1" fill="none" stroke="#221e1b" stroke-width="3.4"/>
<path d="M1061.5 1199.2C1062.3 1200.0 1064.5 1202.1 1065.9 1204.1C1067.2 1206.2 1069.0 1210.3 1069.6 1211.6" fill="none" stroke="#221e1b" stroke-width="3.4"/>
<path d="M1086.3 1229.5C1087.7 1229.9 1091.4 1230.3 1094.4 1231.4C1097.4 1232.5 1102.6 1235.5 1104.3 1236.4" fill="none" stroke="#221e1b" stroke-width="3.4"/>
<path d="M1086.5 1229.8C1088.0 1230.2 1092.5 1230.8 1095.5 1231.8C1098.4 1232.8 1102.9 1235.1 1104.4 1235.8" fill="none" stroke="#221e1b" stroke-width="3.4"/>
<path d="M1067.7 1266.5C1066.9 1266.0 1064.4 1265.2 1062.7 1263.6C1061.1 1261.9 1058.8 1259.4 1057.8 1256.6C1056.7 1253.8 1056.3 1249.8 1056.3 1246.7C1056.3 1243.6 1057.0 1239.7 1057.8 1237.8C1058.5 1235.9 1059.6 1235.5 1060.7 1235.3C1061.9 1235.1 1063.7 1235.7 1064.7 1236.8C1065.7 1237.9 1066.3 1239.6 1066.7 1241.7C1067.1 1243.9 1067.0 1246.7 1067.2 1249.7C1067.4 1252.6 1067.6 1257.9 1067.7 1259.6" fill="none" stroke="#221e1b" stroke-width="3.4"/>
<path d="M965.8 1129.7C965.9 1132.1 965.8 1139.9 966.6 1144.5C967.4 1149.2 969.0 1153.9 970.7 1157.8C972.5 1161.6 975.7 1164.1 977.4 1167.7C979.0 1171.3 980.2 1175.1 980.7 1179.3C981.1 1183.4 980.7 1188.6 979.8 1192.5C979.0 1196.3 977.8 1199.4 975.7 1202.4C973.6 1205.4 970.5 1208.5 967.4 1210.7C964.4 1212.9 959.2 1214.8 957.5 1215.6" fill="none" stroke="#221e1b" stroke-width="3.4"/>
<path d="M986.4 1144.5C987.1 1147.0 988.8 1155.3 990.6 1159.4C992.4 1163.6 994.7 1166.3 997.2 1169.3C999.7 1172.4 1003.3 1175.4 1005.5 1177.6C1007.7 1179.8 1009.6 1181.7 1010.4 1182.6" fill="none" stroke="#221e1b" stroke-width="3.4"/>
<path d="M982.3 1189.2C984.0 1189.7 988.4 1191.8 992.2 1192.5C996.1 1193.2 1002.4 1193.6 1005.5 1193.3C1008.5 1193.0 1009.6 1191.2 1010.4 1190.8" fill="none" stroke="#221e1b" stroke-width="3.4"/>
<path d="M1010.4 1162.7C1010.3 1164.9 1009.4 1171.5 1009.6 1176.0C1009.7 1180.4 1010.0 1185.6 1011.2 1189.2C1012.5 1192.8 1015.0 1195.0 1017.0 1197.4C1019.1 1199.9 1021.9 1201.7 1023.6 1204.0C1025.4 1206.4 1026.8 1208.3 1027.4 1211.6C1028.1 1214.9 1026.8 1220.2 1027.4 1224.0C1028.1 1227.7 1029.9 1231.2 1031.2 1233.9C1032.4 1236.6 1034.3 1239.0 1034.9 1240.1" fill="none" stroke="#221e1b" stroke-width="3.4"/>
<path d="M1027.4 1206.6L1031.2 1201.7" fill="none" stroke="#221e1b" stroke-width="3.4"/>
<path d="M904.6 1148.7C906.0 1150.2 910.1 1154.6 912.9 1157.8C915.6 1160.9 918.7 1164.1 921.2 1167.7C923.6 1171.3 925.0 1175.4 927.8 1179.3C930.5 1183.1 934.4 1187.2 937.7 1190.8C941.0 1194.4 944.6 1197.4 947.6 1200.7C950.6 1204.0 953.7 1207.4 955.9 1210.7C958.1 1214.0 959.4 1217.0 960.8 1220.6C962.2 1224.2 963.3 1229.1 964.1 1232.1C965.0 1235.2 965.5 1237.7 965.8 1238.8" fill="none" stroke="#221e1b" stroke-width="3.4"/>
<path d="M891.4 1151.2C892.8 1152.5 897.5 1156.7 899.7 1159.4C901.9 1162.2 903.0 1164.2 904.6 1167.7C906.3 1171.1 908.8 1178.0 909.6 1180.1" fill="none" stroke="#221e1b" stroke-width="3.4"/>
<path d="M863.3 1164.4C864.1 1165.5 866.6 1169.2 868.3 1171.0C869.9 1172.8 870.9 1173.6 873.2 1175.1C875.6 1176.6 880.8 1179.3 882.3 1180.1" fill="none" stroke="#221e1b" stroke-width="3.4"/>
<path d="M955.9 1158.6C956.0 1160.7 956.1 1167.0 956.7 1171.0C957.2 1175.0 959.0 1178.4 959.2 1182.6C959.3 1186.7 958.1 1191.9 957.5 1195.8C957.0 1199.6 956.1 1204.0 955.9 1205.7" fill="none" stroke="#221e1b" stroke-width="3.4"/>
<path d="M863.7 1216.4C865.6 1217.3 870.6 1219.6 874.7 1221.7C878.9 1223.7 884.7 1226.1 888.6 1228.6C892.5 1231.1 895.0 1234.0 897.9 1236.7C900.7 1239.4 903.3 1241.9 906.0 1244.8C908.7 1247.7 911.2 1251.0 914.0 1254.0C916.9 1257.1 920.2 1260.4 923.3 1263.3C926.4 1266.2 929.5 1269.5 932.6 1271.4C935.6 1273.3 938.7 1274.5 941.8 1274.9C944.9 1275.3 948.2 1274.5 951.1 1273.7C954.0 1272.9 957.4 1272.0 959.2 1270.2C960.9 1268.5 960.9 1266.0 961.5 1263.3C962.1 1260.6 962.1 1257.1 962.6 1254.0C963.2 1251.0 964.4 1247.1 965.0 1244.8C965.5 1242.5 965.9 1240.9 966.1 1240.2" fill="none" stroke="#221e1b" stroke-width="3.4"/>
<path d="M926.8 1180.0C927.7 1181.2 930.1 1184.0 932.6 1186.9C935.1 1189.8 938.7 1194.1 941.8 1197.4C944.9 1200.6 948.4 1203.7 951.1 1206.6C953.8 1209.5 956.3 1211.8 958.0 1214.7C959.8 1217.6 960.3 1220.9 961.5 1224.0C962.6 1227.1 964.1 1230.5 965.0 1233.2C965.8 1235.9 966.4 1239.0 966.7 1240.2" fill="none" stroke="#221e1b" stroke-width="3.4"/>
<path d="M953.4 1232.6C951.8 1232.1 947.0 1232.4 944.1 1233.2C941.2 1234.1 938.2 1235.9 936.0 1237.9C933.9 1239.8 932.5 1242.1 931.4 1244.8C930.3 1247.5 929.5 1251.5 929.7 1254.0C929.9 1256.6 931.3 1258.1 932.6 1259.8C933.8 1261.6 935.6 1265.2 937.2 1264.5C938.7 1263.7 940.1 1258.5 941.8 1255.2C943.6 1251.9 945.7 1247.9 947.6 1244.8C949.5 1241.7 952.4 1238.7 953.4 1236.7C954.4 1234.7 954.9 1233.2 953.4 1232.6Z" fill="none" stroke="#221e1b" stroke-width="3.4"/>
<path d="M904.8 1229.8C905.0 1228.2 904.8 1223.6 906.0 1220.5C907.1 1217.4 909.2 1213.7 911.7 1211.2C914.2 1208.8 917.1 1207.3 921.0 1206.0C924.8 1204.8 932.6 1204.1 934.9 1203.7" fill="none" stroke="#221e1b" stroke-width="3.4"/>
<path d="M912.3 1233.2C912.8 1231.7 913.8 1226.9 915.2 1224.0C916.7 1221.1 918.7 1218.0 921.0 1215.9C923.3 1213.7 926.2 1212.3 929.1 1211.2C932.0 1210.2 936.8 1209.8 938.3 1209.5" fill="none" stroke="#221e1b" stroke-width="3.4"/>
<path d="M958.0 1180.0C958.6 1181.2 960.9 1184.2 961.5 1186.9C962.1 1189.6 962.1 1193.5 961.5 1196.2C960.9 1198.9 959.4 1201.2 958.0 1203.1C956.7 1205.1 954.2 1207.0 953.4 1207.8" fill="none" stroke="#221e1b" stroke-width="3.4"/>
<path d="M976.5 1180.0C976.7 1181.9 978.1 1187.9 977.7 1191.6C977.3 1195.2 976.0 1199.1 974.2 1202.0C972.5 1204.9 969.8 1207.0 967.3 1208.9C964.8 1210.9 960.5 1212.8 959.2 1213.6" fill="none" stroke="#221e1b" stroke-width="3.4"/>
<path d="M957.4 1351V1291.4C957.4 1287 958.5 1285 960 1283.5" fill="none" stroke="#1c1a18" stroke-width="3.4"/>
<path d="M1044.4 1351V1291.4C1044.4 1287 1043 1285 1040 1282.5" fill="none" stroke="#1c1a18" stroke-width="3.4"/>
<ellipse cx="1000" cy="1283.4" rx="40.3" ry="10.8" fill="#cdcdcd" stroke="#1c1a18" stroke-width="3.4"/>
<path d="M957.4 1291.4C968 1299 984 1303.3 1000 1303.3C1016 1303.3 1033 1299 1044.4 1291.4" fill="none" stroke="#1c1a18" stroke-width="3.4"/>
<path d="M965 1246L962.2 1252L962.8 1263.6L963.8 1275.5C975 1280.5 987 1282.6 1000 1282.6C1014 1282.6 1027 1280.5 1038.2 1275.5L1038.3 1263.6L1038.6 1252L1037 1245Z" fill="#666666"/>
<path d="M965 1246L962.2 1252L962.8 1263.6C975 1268 987 1269.8 1000 1269.8C1013 1269.8 1027 1268 1038.3 1263.6L1038.6 1252L1037 1245Z" fill="#a9a9a9"/>
<ellipse cx="1001" cy="1245.6" rx="36.2" ry="10.6" fill="#a2a2a2" stroke="#1c1a18" stroke-width="3.2"/>
<path d="M962.8 1263.6C975 1268 987 1269.8 1000 1269.8C1013 1269.8 1027 1268 1038.3 1263.6" fill="none" stroke="#1c1a18" stroke-width="3.2"/>
<path d="M965 1246L962.2 1252L962.8 1263.6L963.8 1275.5C975 1280.5 987 1282.6 1000 1282.6C1014 1282.6 1027 1280.5 1038.2 1275.5L1038.3 1263.6L1038.6 1252L1037 1245" fill="none" stroke="#1c1a18" stroke-width="3.4" stroke-linejoin="round"/>
<path d="M975.2 1280.5L980.3 1288.6L985.4 1281.5Z" fill="#333" stroke="#1c1a18" stroke-width="1.5" stroke-linejoin="round"/>
<path d="M1020.8 1281L1025.3 1287.6L1029.8 1279.6Z" fill="#333" stroke="#1c1a18" stroke-width="1.5" stroke-linejoin="round"/>
<path d="M1054.8 1277.4C1054.5 1279.8 1054.0 1286.0 1054.8 1289.3C1055.6 1292.6 1057.6 1295.1 1059.8 1297.3C1061.9 1299.4 1065.4 1301.6 1067.7 1302.2C1070.0 1302.9 1071.7 1302.2 1073.6 1301.2C1075.6 1300.2 1077.9 1298.4 1079.6 1296.3C1081.2 1294.1 1082.4 1291.2 1083.6 1288.3C1084.7 1285.5 1085.7 1282.2 1086.5 1279.4C1087.4 1276.6 1088.5 1273.8 1088.5 1271.5C1088.5 1269.2 1087.9 1267.0 1086.5 1265.5C1085.2 1264.0 1082.6 1262.8 1080.6 1262.6C1078.6 1262.3 1076.4 1263.2 1074.6 1264.0C1072.8 1264.9 1071.5 1266.3 1069.7 1267.5C1067.9 1268.8 1065.9 1270.2 1063.7 1271.5C1061.6 1272.8 1058.3 1274.5 1056.8 1275.5C1055.3 1276.4 1055.1 1275.1 1054.8 1277.4Z" fill="#ffffff" stroke="#221e1b" stroke-width="3.4"/>
<path d="M1061.7 1276.4C1061.7 1277.9 1061.1 1282.7 1061.7 1285.4C1062.4 1288.0 1064.0 1290.5 1065.7 1292.3C1067.4 1294.1 1069.6 1295.5 1071.7 1296.3C1073.7 1297.1 1077.0 1297.1 1078.1 1297.3" fill="none" stroke="#221e1b" stroke-width="3.4"/>
<path d="M1040.9 1267.5C1041.7 1268.5 1043.7 1272.1 1045.9 1273.5C1048.0 1274.8 1051.3 1275.5 1053.8 1275.5C1056.3 1275.5 1058.4 1274.5 1060.7 1273.5C1063.1 1272.5 1066.5 1270.2 1067.7 1269.5" fill="none" stroke="#221e1b" stroke-width="3.4"/>
<path d="M959.8 1220.0C960.3 1221.3 961.8 1225.3 962.8 1227.9C963.8 1230.6 965.1 1233.4 965.8 1235.9C966.4 1238.3 966.7 1240.7 966.8 1242.8C966.8 1245.0 966.1 1247.8 966.0 1248.8" fill="none" stroke="#221e1b" stroke-width="3.4"/>
<path d="M1025.3 1220.0C1025.6 1221.0 1026.3 1223.5 1027.3 1226.0C1028.3 1228.4 1029.8 1232.6 1031.2 1234.9C1032.7 1237.2 1034.9 1238.2 1036.2 1239.8C1037.5 1241.5 1038.7 1244.0 1039.2 1244.8" fill="none" stroke="#221e1b" stroke-width="3.4"/>
</g><!--/p4-->

<!-- number badges -->
<circle cx="82.65" cy="573.85" r="37.5" fill="#28231f"/>
<circle cx="762.3" cy="574" r="37.8" fill="#28231f"/>
<circle cx="81" cy="1276" r="37.7" fill="#28231f"/>
<circle cx="760.7" cy="1275.8" r="37.8" fill="#28231f"/>
<path d="M79 552.5L88.6 552.5L88.6 595.2L79 595.2L78.7 566.1L72.1 572.2L67.8 566.4Z" fill="#fff"/>
<path d="M744.5 559.5C746.5 556 751 552.5 757 552.3C762 552.2 768 552.8 772 556C775.5 558.8 776.6 562 776.4 565.6C776.2 569.5 774.5 572.8 771.5 576.2L763 586.2L776.9 586.2L776.9 595.2L746.5 595.2L746.5 588.2L760.5 573.5C763.5 570.5 765.6 568 765.6 565.1C765.6 562.6 763.6 560.9 761 560.8C757.5 560.6 754 561.8 749.8 565.7Z" fill="#fff"/>
<path d="M64.1 1261.5C66.5 1258 70.5 1255 76 1254.6C81 1254.2 87 1254.8 91 1257.6C94 1259.8 95.3 1262.5 95.2 1265.6C95 1269.5 93 1272.5 88.5 1275.3C93.5 1276.8 96.3 1280.5 96.2 1286.5C96 1292 92.5 1296.2 86.5 1297.8C81.5 1299 75 1298.8 70.5 1297C67.5 1295.8 65.5 1293.8 64.1 1291.5L68.8 1284.3C71 1286.5 74.5 1288.2 79 1288.2C83.5 1288.2 86.6 1286 86.6 1282.5C86.6 1279.5 83.8 1278.3 80 1278.3L74.1 1278.3L74.1 1271L79.3 1270.7C82.8 1270.5 85.3 1269.3 85.3 1266.8C85.3 1264.3 82.5 1263 78.5 1263.1C74.5 1263.2 71.5 1264.8 69.4 1267Z" fill="#fff"/>
<path d="M757.4 1255.2L770.3 1255.2L770.3 1280L774.9 1280L774.9 1288.2L770.3 1288.2L770.3 1296.8L761.3 1296.8L761.3 1288.2L742.8 1288.2L742.8 1280ZM752.1 1280L761 1280L761 1264.1Z" fill="#fff" fill-rule="evenodd"/>

<!-- captions -->
<text class="t" font-size="52" text-anchor="middle"><tspan x="265" y="727">Clean</tspan><tspan x="266.5" y="783" textLength="386" lengthAdjust="spacingAndGlyphs">the furniture feet</tspan></text>
<text class="t" font-size="52" text-anchor="middle"><tspan x="946" y="727" textLength="416" lengthAdjust="spacingAndGlyphs">Peel off the paper</tspan><tspan x="945" y="783" textLength="294.5" lengthAdjust="spacingAndGlyphs">from the pad</tspan></text>
<text class="t" font-size="52" text-anchor="middle"><tspan x="264" y="1428" textLength="304.5" lengthAdjust="spacingAndGlyphs">Place prongs</tspan><tspan x="265" y="1484" textLength="371.5" lengthAdjust="spacingAndGlyphs">on furniture feet</tspan></text>
<text class="t" font-size="52" text-anchor="middle"><tspan x="942.4" y="1428" textLength="293.5" lengthAdjust="spacingAndGlyphs">Carefully tap</tspan><tspan x="942.7" y="1484" textLength="219" lengthAdjust="spacingAndGlyphs">prongs in</tspan></text>
</svg>
</body></html>
